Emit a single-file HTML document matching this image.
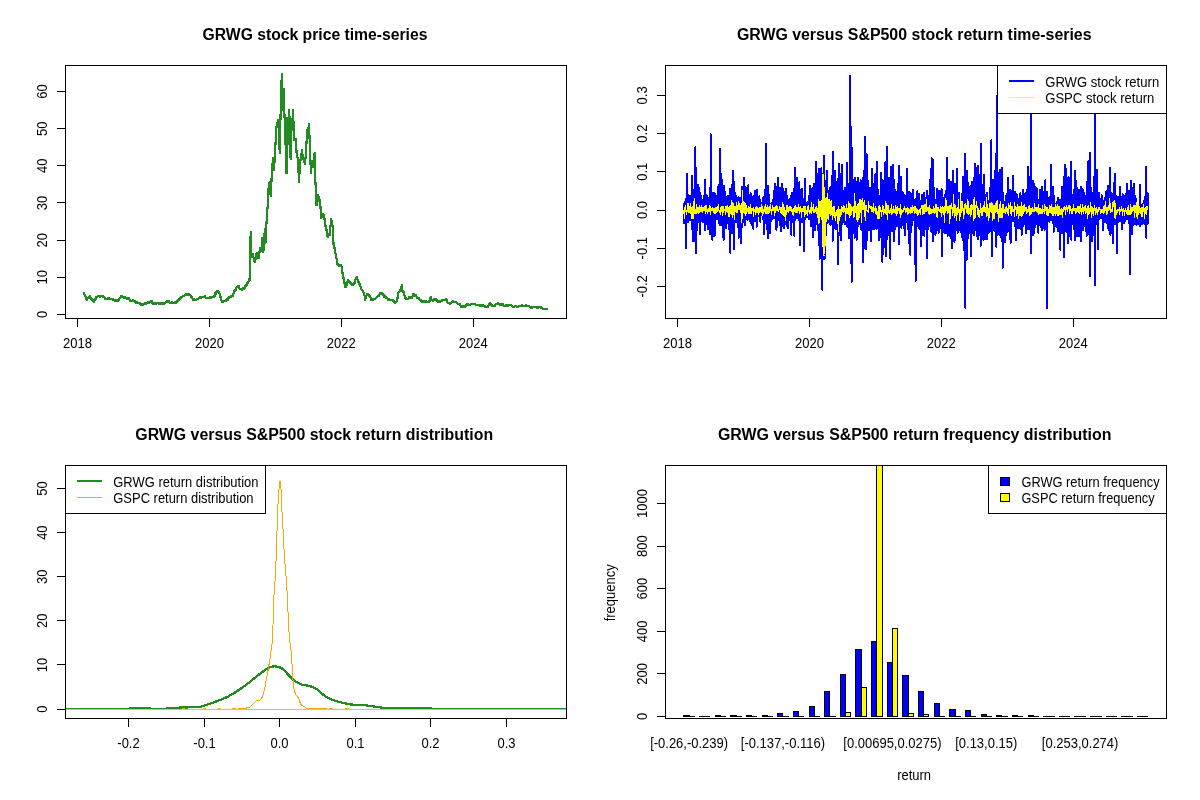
<!DOCTYPE html>
<html><head><meta charset="utf-8"><title>GRWG vs S&amp;P500</title>
<style>html,body{margin:0;padding:0;background:#fff}svg{display:block}</style></head>
<body>
<svg width="1200" height="800" viewBox="0 0 1200 800" font-family="'Liberation Sans', Arial, sans-serif" fill="#000">
<rect width="1200" height="800" fill="#fff"/>
<defs>
<clipPath id="c0"><rect x="65.3" y="65.3" width="501.2" height="253.4"/></clipPath>
<clipPath id="c1"><rect x="665.3" y="65.3" width="501.2" height="253.4"/></clipPath>
<clipPath id="c2"><rect x="65.3" y="465.3" width="501.2" height="253.4"/></clipPath>
<clipPath id="c3"><rect x="665.3" y="465.3" width="501.2" height="253.4"/></clipPath>
</defs>
<g clip-path="url(#c0)" fill="none" stroke="#228B22" stroke-width="1.1" stroke-linejoin="round" shape-rendering="crispEdges">
<polyline id="p1" points="83.75,292.75 84.38,294.03 85.01,295.78 85.64,296.85 86.27,298.22 86.90,299.75 87.61,298.50 88.33,297.91 89.04,297.60 89.75,296.25 90.42,297.37 91.08,298.56 91.75,299.17 92.42,300.17 93.08,301.03 93.75,301.90 94.38,300.12 95.00,299.91 95.62,298.62 96.25,297.25 96.88,297.32 97.51,296.24 98.13,296.08 98.76,296.31 99.39,296.35 100.02,296.55 100.64,296.26 101.27,296.37 101.90,296.00 102.52,296.13 103.13,296.97 103.75,297.42 104.37,297.39 104.98,298.79 105.60,298.50 106.23,298.75 106.86,299.04 107.48,298.33 108.11,298.31 108.74,298.50 109.37,298.62 109.99,298.95 110.62,298.82 111.25,298.75 111.88,298.88 112.50,298.99 113.12,299.47 113.75,300.45 114.38,299.99 115.00,300.60 115.62,300.63 116.25,300.64 116.88,299.87 117.50,300.38 118.12,300.80 118.75,300.25 119.44,298.46 120.12,298.12 120.81,297.20 121.50,296.25 122.22,296.36 122.95,297.39 123.68,297.61 124.40,298.10 125.02,297.50 125.64,298.44 126.26,298.38 126.89,298.49 127.51,298.69 128.13,298.25 128.75,298.10 129.37,299.20 129.98,299.71 130.60,301.25 131.23,301.34 131.86,300.77 132.49,300.69 133.12,300.26 133.75,300.60 134.38,300.79 135.00,301.49 135.62,302.66 136.25,302.75 136.88,302.14 137.51,302.40 138.14,303.04 138.77,303.51 139.40,303.10 140.13,304.12 140.87,304.19 141.60,305.60 142.28,304.43 142.96,304.87 143.64,304.11 144.32,303.56 145.00,303.50 145.62,303.57 146.25,303.37 146.88,302.80 147.50,302.58 148.12,302.40 148.75,302.56 149.38,301.97 150.00,301.69 150.62,301.45 151.25,301.00 151.88,301.19 152.50,302.94 153.12,303.57 153.75,304.00 154.38,303.99 155.01,303.00 155.64,303.25 156.27,303.56 156.90,303.10 157.53,302.53 158.15,303.11 158.78,303.54 159.40,302.80 160.03,303.80 160.65,303.48 161.28,303.28 161.90,303.47 162.53,303.61 163.15,303.47 163.78,303.84 164.40,303.50 165.07,302.78 165.74,302.36 166.41,302.36 167.08,301.51 167.75,301.00 168.46,301.12 169.18,302.21 169.89,302.82 170.60,302.75 171.22,302.60 171.85,302.28 172.47,302.70 173.10,302.70 173.72,302.65 174.35,303.22 174.97,302.40 175.60,302.75 176.23,302.58 176.86,301.07 177.48,300.63 178.11,300.54 178.74,300.13 179.37,299.42 179.99,298.61 180.62,297.92 181.25,297.25 181.88,296.93 182.51,296.72 183.13,296.00 183.76,295.82 184.39,295.57 185.02,294.92 185.64,294.89 186.27,294.41 186.90,293.75 187.52,295.02 188.13,294.52 188.75,294.48 189.37,294.81 189.98,295.29 190.60,295.60 191.23,296.84 191.87,297.12 192.50,298.26 193.13,299.67 193.77,298.78 194.40,300.60 195.02,299.82 195.64,299.98 196.26,299.68 196.89,299.27 197.51,298.64 198.13,298.72 198.75,298.10 199.38,298.02 200.00,297.48 200.62,298.53 201.25,297.45 201.88,296.86 202.50,296.90 203.12,297.06 203.75,297.20 204.38,297.47 205.00,296.56 205.62,297.70 206.25,298.10 206.88,298.42 207.50,297.41 208.12,297.77 208.75,298.10 209.38,297.96 210.00,297.50 210.62,298.03 211.25,296.58 211.88,297.05 212.50,296.95 213.12,297.27 213.75,296.90 214.45,296.15 215.15,293.16 215.85,293.71 216.55,291.20 217.25,290.70 217.86,291.82 218.47,291.47 219.09,293.07 219.70,293.75 220.47,297.09 221.23,299.32 222.00,302.20 222.61,301.98 223.21,301.91 223.82,301.39 224.43,301.02 225.04,301.34 225.64,300.88 226.25,300.20 226.88,299.51 227.50,300.14 228.12,298.01 228.75,298.28 229.38,297.21 230.00,296.75 230.60,296.51 231.20,296.46 231.80,295.95 232.40,295.84 233.00,295.25 233.75,292.76 234.50,290.97 235.25,290.00 235.89,289.41 236.53,287.57 237.16,286.58 237.80,286.25 238.45,286.00 239.10,288.24 239.75,288.55 240.40,289.58 241.05,288.86 241.70,290.00 242.36,289.40 243.02,288.16 243.68,288.64 244.34,288.52 245.00,287.00 245.75,285.21 246.50,285.48 247.25,283.25 247.89,282.97 248.53,281.25 249.16,279.07 249.80,279.50 250.10,249.50 250.70,232.25 251.00,257.00 251.75,257.04 252.50,254.00 253.25,256.65 254.00,258.88 254.75,262.25 255.40,259.66 256.05,256.69 256.70,253.25 257.30,256.65 257.90,255.65 258.50,258.50 259.25,254.53 260.00,248.00 260.75,251.27 261.50,251.00 262.25,237.50 263.30,252.50 264.05,242.44 264.80,228.50 265.40,243.50 266.07,230.48 266.75,218.00 267.80,204.50 268.50,188.75 269.60,182.20 270.75,196.25 271.90,171.90 273.00,157.80 274.10,170.00 274.85,153.95 275.60,141.90 276.75,123.10 277.50,124.99 278.25,120.30 279.00,137.04 279.75,153.10 280.90,98.75 281.80,74.40 282.75,110.00 283.70,89.40 284.60,119.40 285.60,145.60 286.50,173.75 287.25,117.50 288.20,143.75 289.30,110.00 289.95,134.75 290.60,158.75 291.75,121.25 292.43,120.37 293.10,110.00 294.00,140.00 294.65,138.72 295.30,139.00 295.95,139.52 296.60,153.10 297.75,158.75 298.43,169.52 299.10,182.20 299.75,166.88 300.40,160.60 301.15,157.66 301.90,150.30 302.65,155.38 303.40,158.75 304.15,159.99 304.90,164.40 306.00,153.10 307.10,131.60 307.73,129.04 308.37,129.16 309.00,124.00 309.75,143.75 310.90,172.80 311.55,166.90 312.20,160.60 312.85,167.30 313.50,167.20 314.60,153.10 315.40,181.25 316.50,205.60 317.30,200.13 318.10,194.90 318.77,198.64 319.43,201.13 320.10,199.75 320.75,211.64 321.40,217.60 322.03,215.38 322.67,216.99 323.30,214.40 324.00,214.99 324.70,220.17 325.40,225.70 326.25,227.67 327.10,235.50 327.78,236.81 328.45,233.35 329.12,234.88 329.80,234.70 330.45,226.65 331.10,219.20 331.93,223.25 332.75,227.40 333.60,245.20 334.40,247.74 335.20,251.70 336.00,256.05 336.80,259.90 337.50,263.84 338.20,264.28 338.90,266.40 339.67,266.33 340.43,266.20 341.20,264.70 341.85,268.63 342.50,272.90 343.30,276.41 344.10,281.80 344.90,284.30 345.70,287.50 346.32,286.33 346.95,282.80 347.57,281.62 348.20,280.20 348.90,281.69 349.60,282.33 350.30,282.60 351.07,283.40 351.83,284.71 352.60,285.00 353.30,284.31 354.00,282.64 354.70,282.60 355.40,279.62 356.10,278.34 356.80,276.90 357.43,279.47 358.07,280.31 358.70,282.60 359.32,283.65 359.95,285.38 360.57,286.58 361.20,289.10 361.80,289.86 362.40,290.12 363.00,291.76 363.60,292.40 364.40,295.00 365.20,299.70 366.05,296.99 366.90,294.00 367.50,294.10 368.10,293.90 368.70,295.53 369.30,295.60 370.00,297.02 370.70,297.77 371.40,300.20 372.10,299.62 372.80,299.81 373.50,299.27 374.20,299.20 374.84,298.95 375.48,298.39 376.12,297.80 376.76,297.10 377.40,296.40 378.08,296.38 378.77,295.47 379.45,294.76 380.13,292.93 380.82,293.76 381.50,292.70 382.14,294.08 382.78,294.04 383.42,294.70 384.06,296.54 384.70,296.40 385.31,296.05 385.93,297.42 386.54,298.65 387.15,297.67 387.76,298.74 388.38,299.63 388.99,299.24 389.60,299.70 390.28,300.08 390.96,300.36 391.64,299.84 392.32,300.31 393.00,300.50 393.63,301.36 394.27,302.29 394.90,302.75 395.63,302.12 396.37,301.45 397.10,300.90 398.25,293.00 398.87,291.85 399.48,291.55 400.10,291.10 400.73,289.48 401.37,286.93 402.00,284.75 402.40,290.75 403.15,291.44 403.90,293.00 405.00,297.50 405.75,297.52 406.50,299.33 407.25,298.60 407.85,298.84 408.45,298.42 409.05,296.86 409.65,297.98 410.25,297.50 411.00,297.45 411.75,297.72 412.50,296.75 413.40,293.75 414.07,295.07 414.75,296.00 415.90,294.90 417.00,297.50 417.63,297.72 418.27,298.22 418.90,298.25 420.00,300.10 420.75,299.88 421.50,301.48 422.25,301.60 423.00,301.60 423.75,301.11 424.50,301.25 425.10,301.95 425.70,302.35 426.30,301.45 426.90,301.94 427.50,302.40 428.25,302.00 429.00,301.47 429.75,300.90 430.90,296.75 431.25,300.10 431.88,299.89 432.50,299.61 433.12,300.74 433.75,300.27 434.38,299.35 435.00,299.75 435.75,299.05 436.50,299.40 437.15,300.60 437.80,300.87 438.45,301.72 439.10,301.60 439.76,301.72 440.43,300.93 441.09,301.17 441.75,300.90 442.50,299.83 443.25,300.09 444.00,300.10 444.75,299.84 445.50,299.84 446.25,299.40 447.00,300.99 447.75,303.10 448.35,303.14 448.95,303.41 449.55,303.46 450.15,303.63 450.75,303.50 451.50,302.70 452.25,301.65 453.00,300.90 453.75,301.55 454.50,301.65 455.25,302.00 456.00,302.22 456.75,302.79 457.50,303.50 458.25,303.75 459.00,303.97 459.75,304.25 460.90,306.50 461.58,306.54 462.27,306.50 462.95,306.55 463.63,306.46 464.32,306.15 465.00,306.50 465.75,305.76 466.50,305.09 467.25,303.90 468.00,304.40 468.75,304.58 469.50,305.00 470.12,304.95 470.75,304.34 471.38,303.86 472.00,304.29 472.62,303.79 473.25,303.90 473.85,304.35 474.45,304.00 475.05,303.75 475.65,304.46 476.25,305.00 476.92,305.44 477.58,304.82 478.25,304.90 479.00,304.86 479.75,305.41 480.50,306.00 481.13,305.90 481.77,305.65 482.40,305.25 483.02,305.55 483.63,306.18 484.25,306.20 484.87,306.24 485.48,306.67 486.10,306.75 486.73,307.09 487.37,306.79 488.00,306.40 488.63,305.57 489.27,303.79 489.90,303.00 490.55,303.70 491.20,304.73 491.85,305.16 492.50,306.00 493.13,306.27 493.77,306.10 494.40,305.90 495.15,305.10 495.90,303.75 496.57,303.43 497.23,304.09 497.90,303.00 498.60,303.90 499.30,303.93 500.00,304.50 500.75,304.39 501.50,305.05 502.25,304.10 503.00,304.63 503.75,305.63 504.50,306.00 505.10,306.20 505.70,305.84 506.30,305.42 506.90,305.73 507.50,305.60 508.25,305.36 509.00,304.90 509.75,305.31 510.50,305.27 511.25,305.10 512.00,305.77 512.75,306.67 513.50,307.10 514.13,306.85 514.77,306.36 515.40,305.90 516.02,306.25 516.63,306.50 517.25,306.90 517.88,306.95 518.50,306.34 519.12,306.33 519.75,306.37 520.38,305.82 521.00,306.10 521.62,305.96 522.25,305.49 522.88,305.86 523.50,306.20 524.12,306.18 524.75,305.98 525.38,305.92 526.00,305.56 526.62,306.47 527.25,306.08 527.88,306.23 528.50,305.90 529.10,306.05 529.70,306.65 530.30,306.61 530.90,307.70 531.50,307.90 532.25,307.81 533.00,306.73 533.75,306.90 534.50,306.95 535.25,307.20 536.00,307.10 536.75,307.04 537.50,307.90 538.10,307.27 538.70,307.30 539.30,307.25 539.90,306.89 540.50,307.10 541.15,307.56 541.80,308.06 542.45,308.61 543.10,308.90 543.74,309.07 544.39,309.26 545.03,309.18 545.67,308.59 546.31,308.78 546.96,308.65 547.60,308.90" transform="translate(-0.5 -0.5)"/>
<polyline points="83.75,292.75 84.38,294.03 85.01,295.78 85.64,296.85 86.27,298.22 86.90,299.75 87.61,298.50 88.33,297.91 89.04,297.60 89.75,296.25 90.42,297.37 91.08,298.56 91.75,299.17 92.42,300.17 93.08,301.03 93.75,301.90 94.38,300.12 95.00,299.91 95.62,298.62 96.25,297.25 96.88,297.32 97.51,296.24 98.13,296.08 98.76,296.31 99.39,296.35 100.02,296.55 100.64,296.26 101.27,296.37 101.90,296.00 102.52,296.13 103.13,296.97 103.75,297.42 104.37,297.39 104.98,298.79 105.60,298.50 106.23,298.75 106.86,299.04 107.48,298.33 108.11,298.31 108.74,298.50 109.37,298.62 109.99,298.95 110.62,298.82 111.25,298.75 111.88,298.88 112.50,298.99 113.12,299.47 113.75,300.45 114.38,299.99 115.00,300.60 115.62,300.63 116.25,300.64 116.88,299.87 117.50,300.38 118.12,300.80 118.75,300.25 119.44,298.46 120.12,298.12 120.81,297.20 121.50,296.25 122.22,296.36 122.95,297.39 123.68,297.61 124.40,298.10 125.02,297.50 125.64,298.44 126.26,298.38 126.89,298.49 127.51,298.69 128.13,298.25 128.75,298.10 129.37,299.20 129.98,299.71 130.60,301.25 131.23,301.34 131.86,300.77 132.49,300.69 133.12,300.26 133.75,300.60 134.38,300.79 135.00,301.49 135.62,302.66 136.25,302.75 136.88,302.14 137.51,302.40 138.14,303.04 138.77,303.51 139.40,303.10 140.13,304.12 140.87,304.19 141.60,305.60 142.28,304.43 142.96,304.87 143.64,304.11 144.32,303.56 145.00,303.50 145.62,303.57 146.25,303.37 146.88,302.80 147.50,302.58 148.12,302.40 148.75,302.56 149.38,301.97 150.00,301.69 150.62,301.45 151.25,301.00 151.88,301.19 152.50,302.94 153.12,303.57 153.75,304.00 154.38,303.99 155.01,303.00 155.64,303.25 156.27,303.56 156.90,303.10 157.53,302.53 158.15,303.11 158.78,303.54 159.40,302.80 160.03,303.80 160.65,303.48 161.28,303.28 161.90,303.47 162.53,303.61 163.15,303.47 163.78,303.84 164.40,303.50 165.07,302.78 165.74,302.36 166.41,302.36 167.08,301.51 167.75,301.00 168.46,301.12 169.18,302.21 169.89,302.82 170.60,302.75 171.22,302.60 171.85,302.28 172.47,302.70 173.10,302.70 173.72,302.65 174.35,303.22 174.97,302.40 175.60,302.75 176.23,302.58 176.86,301.07 177.48,300.63 178.11,300.54 178.74,300.13 179.37,299.42 179.99,298.61 180.62,297.92 181.25,297.25 181.88,296.93 182.51,296.72 183.13,296.00 183.76,295.82 184.39,295.57 185.02,294.92 185.64,294.89 186.27,294.41 186.90,293.75 187.52,295.02 188.13,294.52 188.75,294.48 189.37,294.81 189.98,295.29 190.60,295.60 191.23,296.84 191.87,297.12 192.50,298.26 193.13,299.67 193.77,298.78 194.40,300.60 195.02,299.82 195.64,299.98 196.26,299.68 196.89,299.27 197.51,298.64 198.13,298.72 198.75,298.10 199.38,298.02 200.00,297.48 200.62,298.53 201.25,297.45 201.88,296.86 202.50,296.90 203.12,297.06 203.75,297.20 204.38,297.47 205.00,296.56 205.62,297.70 206.25,298.10 206.88,298.42 207.50,297.41 208.12,297.77 208.75,298.10 209.38,297.96 210.00,297.50 210.62,298.03 211.25,296.58 211.88,297.05 212.50,296.95 213.12,297.27 213.75,296.90 214.45,296.15 215.15,293.16 215.85,293.71 216.55,291.20 217.25,290.70 217.86,291.82 218.47,291.47 219.09,293.07 219.70,293.75 220.47,297.09 221.23,299.32 222.00,302.20 222.61,301.98 223.21,301.91 223.82,301.39 224.43,301.02 225.04,301.34 225.64,300.88 226.25,300.20 226.88,299.51 227.50,300.14 228.12,298.01 228.75,298.28 229.38,297.21 230.00,296.75 230.60,296.51 231.20,296.46 231.80,295.95 232.40,295.84 233.00,295.25 233.75,292.76 234.50,290.97 235.25,290.00 235.89,289.41 236.53,287.57 237.16,286.58 237.80,286.25 238.45,286.00 239.10,288.24 239.75,288.55 240.40,289.58 241.05,288.86 241.70,290.00 242.36,289.40 243.02,288.16 243.68,288.64 244.34,288.52 245.00,287.00 245.75,285.21 246.50,285.48 247.25,283.25 247.89,282.97 248.53,281.25 249.16,279.07 249.80,279.50 250.10,249.50 250.70,232.25 251.00,257.00 251.75,257.04 252.50,254.00 253.25,256.65 254.00,258.88 254.75,262.25 255.40,259.66 256.05,256.69 256.70,253.25 257.30,256.65 257.90,255.65 258.50,258.50 259.25,254.53 260.00,248.00 260.75,251.27 261.50,251.00 262.25,237.50 263.30,252.50 264.05,242.44 264.80,228.50 265.40,243.50 266.07,230.48 266.75,218.00 267.80,204.50 268.50,188.75 269.60,182.20 270.75,196.25 271.90,171.90 273.00,157.80 274.10,170.00 274.85,153.95 275.60,141.90 276.75,123.10 277.50,124.99 278.25,120.30 279.00,137.04 279.75,153.10 280.90,98.75 281.80,74.40 282.75,110.00 283.70,89.40 284.60,119.40 285.60,145.60 286.50,173.75 287.25,117.50 288.20,143.75 289.30,110.00 289.95,134.75 290.60,158.75 291.75,121.25 292.43,120.37 293.10,110.00 294.00,140.00 294.65,138.72 295.30,139.00 295.95,139.52 296.60,153.10 297.75,158.75 298.43,169.52 299.10,182.20 299.75,166.88 300.40,160.60 301.15,157.66 301.90,150.30 302.65,155.38 303.40,158.75 304.15,159.99 304.90,164.40 306.00,153.10 307.10,131.60 307.73,129.04 308.37,129.16 309.00,124.00 309.75,143.75 310.90,172.80 311.55,166.90 312.20,160.60 312.85,167.30 313.50,167.20 314.60,153.10 315.40,181.25 316.50,205.60 317.30,200.13 318.10,194.90 318.77,198.64 319.43,201.13 320.10,199.75 320.75,211.64 321.40,217.60 322.03,215.38 322.67,216.99 323.30,214.40 324.00,214.99 324.70,220.17 325.40,225.70 326.25,227.67 327.10,235.50 327.78,236.81 328.45,233.35 329.12,234.88 329.80,234.70 330.45,226.65 331.10,219.20 331.93,223.25 332.75,227.40 333.60,245.20 334.40,247.74 335.20,251.70 336.00,256.05 336.80,259.90 337.50,263.84 338.20,264.28 338.90,266.40 339.67,266.33 340.43,266.20 341.20,264.70 341.85,268.63 342.50,272.90 343.30,276.41 344.10,281.80 344.90,284.30 345.70,287.50 346.32,286.33 346.95,282.80 347.57,281.62 348.20,280.20 348.90,281.69 349.60,282.33 350.30,282.60 351.07,283.40 351.83,284.71 352.60,285.00 353.30,284.31 354.00,282.64 354.70,282.60 355.40,279.62 356.10,278.34 356.80,276.90 357.43,279.47 358.07,280.31 358.70,282.60 359.32,283.65 359.95,285.38 360.57,286.58 361.20,289.10 361.80,289.86 362.40,290.12 363.00,291.76 363.60,292.40 364.40,295.00 365.20,299.70 366.05,296.99 366.90,294.00 367.50,294.10 368.10,293.90 368.70,295.53 369.30,295.60 370.00,297.02 370.70,297.77 371.40,300.20 372.10,299.62 372.80,299.81 373.50,299.27 374.20,299.20 374.84,298.95 375.48,298.39 376.12,297.80 376.76,297.10 377.40,296.40 378.08,296.38 378.77,295.47 379.45,294.76 380.13,292.93 380.82,293.76 381.50,292.70 382.14,294.08 382.78,294.04 383.42,294.70 384.06,296.54 384.70,296.40 385.31,296.05 385.93,297.42 386.54,298.65 387.15,297.67 387.76,298.74 388.38,299.63 388.99,299.24 389.60,299.70 390.28,300.08 390.96,300.36 391.64,299.84 392.32,300.31 393.00,300.50 393.63,301.36 394.27,302.29 394.90,302.75 395.63,302.12 396.37,301.45 397.10,300.90 398.25,293.00 398.87,291.85 399.48,291.55 400.10,291.10 400.73,289.48 401.37,286.93 402.00,284.75 402.40,290.75 403.15,291.44 403.90,293.00 405.00,297.50 405.75,297.52 406.50,299.33 407.25,298.60 407.85,298.84 408.45,298.42 409.05,296.86 409.65,297.98 410.25,297.50 411.00,297.45 411.75,297.72 412.50,296.75 413.40,293.75 414.07,295.07 414.75,296.00 415.90,294.90 417.00,297.50 417.63,297.72 418.27,298.22 418.90,298.25 420.00,300.10 420.75,299.88 421.50,301.48 422.25,301.60 423.00,301.60 423.75,301.11 424.50,301.25 425.10,301.95 425.70,302.35 426.30,301.45 426.90,301.94 427.50,302.40 428.25,302.00 429.00,301.47 429.75,300.90 430.90,296.75 431.25,300.10 431.88,299.89 432.50,299.61 433.12,300.74 433.75,300.27 434.38,299.35 435.00,299.75 435.75,299.05 436.50,299.40 437.15,300.60 437.80,300.87 438.45,301.72 439.10,301.60 439.76,301.72 440.43,300.93 441.09,301.17 441.75,300.90 442.50,299.83 443.25,300.09 444.00,300.10 444.75,299.84 445.50,299.84 446.25,299.40 447.00,300.99 447.75,303.10 448.35,303.14 448.95,303.41 449.55,303.46 450.15,303.63 450.75,303.50 451.50,302.70 452.25,301.65 453.00,300.90 453.75,301.55 454.50,301.65 455.25,302.00 456.00,302.22 456.75,302.79 457.50,303.50 458.25,303.75 459.00,303.97 459.75,304.25 460.90,306.50 461.58,306.54 462.27,306.50 462.95,306.55 463.63,306.46 464.32,306.15 465.00,306.50 465.75,305.76 466.50,305.09 467.25,303.90 468.00,304.40 468.75,304.58 469.50,305.00 470.12,304.95 470.75,304.34 471.38,303.86 472.00,304.29 472.62,303.79 473.25,303.90 473.85,304.35 474.45,304.00 475.05,303.75 475.65,304.46 476.25,305.00 476.92,305.44 477.58,304.82 478.25,304.90 479.00,304.86 479.75,305.41 480.50,306.00 481.13,305.90 481.77,305.65 482.40,305.25 483.02,305.55 483.63,306.18 484.25,306.20 484.87,306.24 485.48,306.67 486.10,306.75 486.73,307.09 487.37,306.79 488.00,306.40 488.63,305.57 489.27,303.79 489.90,303.00 490.55,303.70 491.20,304.73 491.85,305.16 492.50,306.00 493.13,306.27 493.77,306.10 494.40,305.90 495.15,305.10 495.90,303.75 496.57,303.43 497.23,304.09 497.90,303.00 498.60,303.90 499.30,303.93 500.00,304.50 500.75,304.39 501.50,305.05 502.25,304.10 503.00,304.63 503.75,305.63 504.50,306.00 505.10,306.20 505.70,305.84 506.30,305.42 506.90,305.73 507.50,305.60 508.25,305.36 509.00,304.90 509.75,305.31 510.50,305.27 511.25,305.10 512.00,305.77 512.75,306.67 513.50,307.10 514.13,306.85 514.77,306.36 515.40,305.90 516.02,306.25 516.63,306.50 517.25,306.90 517.88,306.95 518.50,306.34 519.12,306.33 519.75,306.37 520.38,305.82 521.00,306.10 521.62,305.96 522.25,305.49 522.88,305.86 523.50,306.20 524.12,306.18 524.75,305.98 525.38,305.92 526.00,305.56 526.62,306.47 527.25,306.08 527.88,306.23 528.50,305.90 529.10,306.05 529.70,306.65 530.30,306.61 530.90,307.70 531.50,307.90 532.25,307.81 533.00,306.73 533.75,306.90 534.50,306.95 535.25,307.20 536.00,307.10 536.75,307.04 537.50,307.90 538.10,307.27 538.70,307.30 539.30,307.25 539.90,306.89 540.50,307.10 541.15,307.56 541.80,308.06 542.45,308.61 543.10,308.90 543.74,309.07 544.39,309.26 545.03,309.18 545.67,308.59 546.31,308.78 546.96,308.65 547.60,308.90" transform="translate(0.5 -0.5)"/>
<polyline points="83.75,292.75 84.38,294.03 85.01,295.78 85.64,296.85 86.27,298.22 86.90,299.75 87.61,298.50 88.33,297.91 89.04,297.60 89.75,296.25 90.42,297.37 91.08,298.56 91.75,299.17 92.42,300.17 93.08,301.03 93.75,301.90 94.38,300.12 95.00,299.91 95.62,298.62 96.25,297.25 96.88,297.32 97.51,296.24 98.13,296.08 98.76,296.31 99.39,296.35 100.02,296.55 100.64,296.26 101.27,296.37 101.90,296.00 102.52,296.13 103.13,296.97 103.75,297.42 104.37,297.39 104.98,298.79 105.60,298.50 106.23,298.75 106.86,299.04 107.48,298.33 108.11,298.31 108.74,298.50 109.37,298.62 109.99,298.95 110.62,298.82 111.25,298.75 111.88,298.88 112.50,298.99 113.12,299.47 113.75,300.45 114.38,299.99 115.00,300.60 115.62,300.63 116.25,300.64 116.88,299.87 117.50,300.38 118.12,300.80 118.75,300.25 119.44,298.46 120.12,298.12 120.81,297.20 121.50,296.25 122.22,296.36 122.95,297.39 123.68,297.61 124.40,298.10 125.02,297.50 125.64,298.44 126.26,298.38 126.89,298.49 127.51,298.69 128.13,298.25 128.75,298.10 129.37,299.20 129.98,299.71 130.60,301.25 131.23,301.34 131.86,300.77 132.49,300.69 133.12,300.26 133.75,300.60 134.38,300.79 135.00,301.49 135.62,302.66 136.25,302.75 136.88,302.14 137.51,302.40 138.14,303.04 138.77,303.51 139.40,303.10 140.13,304.12 140.87,304.19 141.60,305.60 142.28,304.43 142.96,304.87 143.64,304.11 144.32,303.56 145.00,303.50 145.62,303.57 146.25,303.37 146.88,302.80 147.50,302.58 148.12,302.40 148.75,302.56 149.38,301.97 150.00,301.69 150.62,301.45 151.25,301.00 151.88,301.19 152.50,302.94 153.12,303.57 153.75,304.00 154.38,303.99 155.01,303.00 155.64,303.25 156.27,303.56 156.90,303.10 157.53,302.53 158.15,303.11 158.78,303.54 159.40,302.80 160.03,303.80 160.65,303.48 161.28,303.28 161.90,303.47 162.53,303.61 163.15,303.47 163.78,303.84 164.40,303.50 165.07,302.78 165.74,302.36 166.41,302.36 167.08,301.51 167.75,301.00 168.46,301.12 169.18,302.21 169.89,302.82 170.60,302.75 171.22,302.60 171.85,302.28 172.47,302.70 173.10,302.70 173.72,302.65 174.35,303.22 174.97,302.40 175.60,302.75 176.23,302.58 176.86,301.07 177.48,300.63 178.11,300.54 178.74,300.13 179.37,299.42 179.99,298.61 180.62,297.92 181.25,297.25 181.88,296.93 182.51,296.72 183.13,296.00 183.76,295.82 184.39,295.57 185.02,294.92 185.64,294.89 186.27,294.41 186.90,293.75 187.52,295.02 188.13,294.52 188.75,294.48 189.37,294.81 189.98,295.29 190.60,295.60 191.23,296.84 191.87,297.12 192.50,298.26 193.13,299.67 193.77,298.78 194.40,300.60 195.02,299.82 195.64,299.98 196.26,299.68 196.89,299.27 197.51,298.64 198.13,298.72 198.75,298.10 199.38,298.02 200.00,297.48 200.62,298.53 201.25,297.45 201.88,296.86 202.50,296.90 203.12,297.06 203.75,297.20 204.38,297.47 205.00,296.56 205.62,297.70 206.25,298.10 206.88,298.42 207.50,297.41 208.12,297.77 208.75,298.10 209.38,297.96 210.00,297.50 210.62,298.03 211.25,296.58 211.88,297.05 212.50,296.95 213.12,297.27 213.75,296.90 214.45,296.15 215.15,293.16 215.85,293.71 216.55,291.20 217.25,290.70 217.86,291.82 218.47,291.47 219.09,293.07 219.70,293.75 220.47,297.09 221.23,299.32 222.00,302.20 222.61,301.98 223.21,301.91 223.82,301.39 224.43,301.02 225.04,301.34 225.64,300.88 226.25,300.20 226.88,299.51 227.50,300.14 228.12,298.01 228.75,298.28 229.38,297.21 230.00,296.75 230.60,296.51 231.20,296.46 231.80,295.95 232.40,295.84 233.00,295.25 233.75,292.76 234.50,290.97 235.25,290.00 235.89,289.41 236.53,287.57 237.16,286.58 237.80,286.25 238.45,286.00 239.10,288.24 239.75,288.55 240.40,289.58 241.05,288.86 241.70,290.00 242.36,289.40 243.02,288.16 243.68,288.64 244.34,288.52 245.00,287.00 245.75,285.21 246.50,285.48 247.25,283.25 247.89,282.97 248.53,281.25 249.16,279.07 249.80,279.50 250.10,249.50 250.70,232.25 251.00,257.00 251.75,257.04 252.50,254.00 253.25,256.65 254.00,258.88 254.75,262.25 255.40,259.66 256.05,256.69 256.70,253.25 257.30,256.65 257.90,255.65 258.50,258.50 259.25,254.53 260.00,248.00 260.75,251.27 261.50,251.00 262.25,237.50 263.30,252.50 264.05,242.44 264.80,228.50 265.40,243.50 266.07,230.48 266.75,218.00 267.80,204.50 268.50,188.75 269.60,182.20 270.75,196.25 271.90,171.90 273.00,157.80 274.10,170.00 274.85,153.95 275.60,141.90 276.75,123.10 277.50,124.99 278.25,120.30 279.00,137.04 279.75,153.10 280.90,98.75 281.80,74.40 282.75,110.00 283.70,89.40 284.60,119.40 285.60,145.60 286.50,173.75 287.25,117.50 288.20,143.75 289.30,110.00 289.95,134.75 290.60,158.75 291.75,121.25 292.43,120.37 293.10,110.00 294.00,140.00 294.65,138.72 295.30,139.00 295.95,139.52 296.60,153.10 297.75,158.75 298.43,169.52 299.10,182.20 299.75,166.88 300.40,160.60 301.15,157.66 301.90,150.30 302.65,155.38 303.40,158.75 304.15,159.99 304.90,164.40 306.00,153.10 307.10,131.60 307.73,129.04 308.37,129.16 309.00,124.00 309.75,143.75 310.90,172.80 311.55,166.90 312.20,160.60 312.85,167.30 313.50,167.20 314.60,153.10 315.40,181.25 316.50,205.60 317.30,200.13 318.10,194.90 318.77,198.64 319.43,201.13 320.10,199.75 320.75,211.64 321.40,217.60 322.03,215.38 322.67,216.99 323.30,214.40 324.00,214.99 324.70,220.17 325.40,225.70 326.25,227.67 327.10,235.50 327.78,236.81 328.45,233.35 329.12,234.88 329.80,234.70 330.45,226.65 331.10,219.20 331.93,223.25 332.75,227.40 333.60,245.20 334.40,247.74 335.20,251.70 336.00,256.05 336.80,259.90 337.50,263.84 338.20,264.28 338.90,266.40 339.67,266.33 340.43,266.20 341.20,264.70 341.85,268.63 342.50,272.90 343.30,276.41 344.10,281.80 344.90,284.30 345.70,287.50 346.32,286.33 346.95,282.80 347.57,281.62 348.20,280.20 348.90,281.69 349.60,282.33 350.30,282.60 351.07,283.40 351.83,284.71 352.60,285.00 353.30,284.31 354.00,282.64 354.70,282.60 355.40,279.62 356.10,278.34 356.80,276.90 357.43,279.47 358.07,280.31 358.70,282.60 359.32,283.65 359.95,285.38 360.57,286.58 361.20,289.10 361.80,289.86 362.40,290.12 363.00,291.76 363.60,292.40 364.40,295.00 365.20,299.70 366.05,296.99 366.90,294.00 367.50,294.10 368.10,293.90 368.70,295.53 369.30,295.60 370.00,297.02 370.70,297.77 371.40,300.20 372.10,299.62 372.80,299.81 373.50,299.27 374.20,299.20 374.84,298.95 375.48,298.39 376.12,297.80 376.76,297.10 377.40,296.40 378.08,296.38 378.77,295.47 379.45,294.76 380.13,292.93 380.82,293.76 381.50,292.70 382.14,294.08 382.78,294.04 383.42,294.70 384.06,296.54 384.70,296.40 385.31,296.05 385.93,297.42 386.54,298.65 387.15,297.67 387.76,298.74 388.38,299.63 388.99,299.24 389.60,299.70 390.28,300.08 390.96,300.36 391.64,299.84 392.32,300.31 393.00,300.50 393.63,301.36 394.27,302.29 394.90,302.75 395.63,302.12 396.37,301.45 397.10,300.90 398.25,293.00 398.87,291.85 399.48,291.55 400.10,291.10 400.73,289.48 401.37,286.93 402.00,284.75 402.40,290.75 403.15,291.44 403.90,293.00 405.00,297.50 405.75,297.52 406.50,299.33 407.25,298.60 407.85,298.84 408.45,298.42 409.05,296.86 409.65,297.98 410.25,297.50 411.00,297.45 411.75,297.72 412.50,296.75 413.40,293.75 414.07,295.07 414.75,296.00 415.90,294.90 417.00,297.50 417.63,297.72 418.27,298.22 418.90,298.25 420.00,300.10 420.75,299.88 421.50,301.48 422.25,301.60 423.00,301.60 423.75,301.11 424.50,301.25 425.10,301.95 425.70,302.35 426.30,301.45 426.90,301.94 427.50,302.40 428.25,302.00 429.00,301.47 429.75,300.90 430.90,296.75 431.25,300.10 431.88,299.89 432.50,299.61 433.12,300.74 433.75,300.27 434.38,299.35 435.00,299.75 435.75,299.05 436.50,299.40 437.15,300.60 437.80,300.87 438.45,301.72 439.10,301.60 439.76,301.72 440.43,300.93 441.09,301.17 441.75,300.90 442.50,299.83 443.25,300.09 444.00,300.10 444.75,299.84 445.50,299.84 446.25,299.40 447.00,300.99 447.75,303.10 448.35,303.14 448.95,303.41 449.55,303.46 450.15,303.63 450.75,303.50 451.50,302.70 452.25,301.65 453.00,300.90 453.75,301.55 454.50,301.65 455.25,302.00 456.00,302.22 456.75,302.79 457.50,303.50 458.25,303.75 459.00,303.97 459.75,304.25 460.90,306.50 461.58,306.54 462.27,306.50 462.95,306.55 463.63,306.46 464.32,306.15 465.00,306.50 465.75,305.76 466.50,305.09 467.25,303.90 468.00,304.40 468.75,304.58 469.50,305.00 470.12,304.95 470.75,304.34 471.38,303.86 472.00,304.29 472.62,303.79 473.25,303.90 473.85,304.35 474.45,304.00 475.05,303.75 475.65,304.46 476.25,305.00 476.92,305.44 477.58,304.82 478.25,304.90 479.00,304.86 479.75,305.41 480.50,306.00 481.13,305.90 481.77,305.65 482.40,305.25 483.02,305.55 483.63,306.18 484.25,306.20 484.87,306.24 485.48,306.67 486.10,306.75 486.73,307.09 487.37,306.79 488.00,306.40 488.63,305.57 489.27,303.79 489.90,303.00 490.55,303.70 491.20,304.73 491.85,305.16 492.50,306.00 493.13,306.27 493.77,306.10 494.40,305.90 495.15,305.10 495.90,303.75 496.57,303.43 497.23,304.09 497.90,303.00 498.60,303.90 499.30,303.93 500.00,304.50 500.75,304.39 501.50,305.05 502.25,304.10 503.00,304.63 503.75,305.63 504.50,306.00 505.10,306.20 505.70,305.84 506.30,305.42 506.90,305.73 507.50,305.60 508.25,305.36 509.00,304.90 509.75,305.31 510.50,305.27 511.25,305.10 512.00,305.77 512.75,306.67 513.50,307.10 514.13,306.85 514.77,306.36 515.40,305.90 516.02,306.25 516.63,306.50 517.25,306.90 517.88,306.95 518.50,306.34 519.12,306.33 519.75,306.37 520.38,305.82 521.00,306.10 521.62,305.96 522.25,305.49 522.88,305.86 523.50,306.20 524.12,306.18 524.75,305.98 525.38,305.92 526.00,305.56 526.62,306.47 527.25,306.08 527.88,306.23 528.50,305.90 529.10,306.05 529.70,306.65 530.30,306.61 530.90,307.70 531.50,307.90 532.25,307.81 533.00,306.73 533.75,306.90 534.50,306.95 535.25,307.20 536.00,307.10 536.75,307.04 537.50,307.90 538.10,307.27 538.70,307.30 539.30,307.25 539.90,306.89 540.50,307.10 541.15,307.56 541.80,308.06 542.45,308.61 543.10,308.90 543.74,309.07 544.39,309.26 545.03,309.18 545.67,308.59 546.31,308.78 546.96,308.65 547.60,308.90" transform="translate(-0.5 0.5)"/>
<polyline points="83.75,292.75 84.38,294.03 85.01,295.78 85.64,296.85 86.27,298.22 86.90,299.75 87.61,298.50 88.33,297.91 89.04,297.60 89.75,296.25 90.42,297.37 91.08,298.56 91.75,299.17 92.42,300.17 93.08,301.03 93.75,301.90 94.38,300.12 95.00,299.91 95.62,298.62 96.25,297.25 96.88,297.32 97.51,296.24 98.13,296.08 98.76,296.31 99.39,296.35 100.02,296.55 100.64,296.26 101.27,296.37 101.90,296.00 102.52,296.13 103.13,296.97 103.75,297.42 104.37,297.39 104.98,298.79 105.60,298.50 106.23,298.75 106.86,299.04 107.48,298.33 108.11,298.31 108.74,298.50 109.37,298.62 109.99,298.95 110.62,298.82 111.25,298.75 111.88,298.88 112.50,298.99 113.12,299.47 113.75,300.45 114.38,299.99 115.00,300.60 115.62,300.63 116.25,300.64 116.88,299.87 117.50,300.38 118.12,300.80 118.75,300.25 119.44,298.46 120.12,298.12 120.81,297.20 121.50,296.25 122.22,296.36 122.95,297.39 123.68,297.61 124.40,298.10 125.02,297.50 125.64,298.44 126.26,298.38 126.89,298.49 127.51,298.69 128.13,298.25 128.75,298.10 129.37,299.20 129.98,299.71 130.60,301.25 131.23,301.34 131.86,300.77 132.49,300.69 133.12,300.26 133.75,300.60 134.38,300.79 135.00,301.49 135.62,302.66 136.25,302.75 136.88,302.14 137.51,302.40 138.14,303.04 138.77,303.51 139.40,303.10 140.13,304.12 140.87,304.19 141.60,305.60 142.28,304.43 142.96,304.87 143.64,304.11 144.32,303.56 145.00,303.50 145.62,303.57 146.25,303.37 146.88,302.80 147.50,302.58 148.12,302.40 148.75,302.56 149.38,301.97 150.00,301.69 150.62,301.45 151.25,301.00 151.88,301.19 152.50,302.94 153.12,303.57 153.75,304.00 154.38,303.99 155.01,303.00 155.64,303.25 156.27,303.56 156.90,303.10 157.53,302.53 158.15,303.11 158.78,303.54 159.40,302.80 160.03,303.80 160.65,303.48 161.28,303.28 161.90,303.47 162.53,303.61 163.15,303.47 163.78,303.84 164.40,303.50 165.07,302.78 165.74,302.36 166.41,302.36 167.08,301.51 167.75,301.00 168.46,301.12 169.18,302.21 169.89,302.82 170.60,302.75 171.22,302.60 171.85,302.28 172.47,302.70 173.10,302.70 173.72,302.65 174.35,303.22 174.97,302.40 175.60,302.75 176.23,302.58 176.86,301.07 177.48,300.63 178.11,300.54 178.74,300.13 179.37,299.42 179.99,298.61 180.62,297.92 181.25,297.25 181.88,296.93 182.51,296.72 183.13,296.00 183.76,295.82 184.39,295.57 185.02,294.92 185.64,294.89 186.27,294.41 186.90,293.75 187.52,295.02 188.13,294.52 188.75,294.48 189.37,294.81 189.98,295.29 190.60,295.60 191.23,296.84 191.87,297.12 192.50,298.26 193.13,299.67 193.77,298.78 194.40,300.60 195.02,299.82 195.64,299.98 196.26,299.68 196.89,299.27 197.51,298.64 198.13,298.72 198.75,298.10 199.38,298.02 200.00,297.48 200.62,298.53 201.25,297.45 201.88,296.86 202.50,296.90 203.12,297.06 203.75,297.20 204.38,297.47 205.00,296.56 205.62,297.70 206.25,298.10 206.88,298.42 207.50,297.41 208.12,297.77 208.75,298.10 209.38,297.96 210.00,297.50 210.62,298.03 211.25,296.58 211.88,297.05 212.50,296.95 213.12,297.27 213.75,296.90 214.45,296.15 215.15,293.16 215.85,293.71 216.55,291.20 217.25,290.70 217.86,291.82 218.47,291.47 219.09,293.07 219.70,293.75 220.47,297.09 221.23,299.32 222.00,302.20 222.61,301.98 223.21,301.91 223.82,301.39 224.43,301.02 225.04,301.34 225.64,300.88 226.25,300.20 226.88,299.51 227.50,300.14 228.12,298.01 228.75,298.28 229.38,297.21 230.00,296.75 230.60,296.51 231.20,296.46 231.80,295.95 232.40,295.84 233.00,295.25 233.75,292.76 234.50,290.97 235.25,290.00 235.89,289.41 236.53,287.57 237.16,286.58 237.80,286.25 238.45,286.00 239.10,288.24 239.75,288.55 240.40,289.58 241.05,288.86 241.70,290.00 242.36,289.40 243.02,288.16 243.68,288.64 244.34,288.52 245.00,287.00 245.75,285.21 246.50,285.48 247.25,283.25 247.89,282.97 248.53,281.25 249.16,279.07 249.80,279.50 250.10,249.50 250.70,232.25 251.00,257.00 251.75,257.04 252.50,254.00 253.25,256.65 254.00,258.88 254.75,262.25 255.40,259.66 256.05,256.69 256.70,253.25 257.30,256.65 257.90,255.65 258.50,258.50 259.25,254.53 260.00,248.00 260.75,251.27 261.50,251.00 262.25,237.50 263.30,252.50 264.05,242.44 264.80,228.50 265.40,243.50 266.07,230.48 266.75,218.00 267.80,204.50 268.50,188.75 269.60,182.20 270.75,196.25 271.90,171.90 273.00,157.80 274.10,170.00 274.85,153.95 275.60,141.90 276.75,123.10 277.50,124.99 278.25,120.30 279.00,137.04 279.75,153.10 280.90,98.75 281.80,74.40 282.75,110.00 283.70,89.40 284.60,119.40 285.60,145.60 286.50,173.75 287.25,117.50 288.20,143.75 289.30,110.00 289.95,134.75 290.60,158.75 291.75,121.25 292.43,120.37 293.10,110.00 294.00,140.00 294.65,138.72 295.30,139.00 295.95,139.52 296.60,153.10 297.75,158.75 298.43,169.52 299.10,182.20 299.75,166.88 300.40,160.60 301.15,157.66 301.90,150.30 302.65,155.38 303.40,158.75 304.15,159.99 304.90,164.40 306.00,153.10 307.10,131.60 307.73,129.04 308.37,129.16 309.00,124.00 309.75,143.75 310.90,172.80 311.55,166.90 312.20,160.60 312.85,167.30 313.50,167.20 314.60,153.10 315.40,181.25 316.50,205.60 317.30,200.13 318.10,194.90 318.77,198.64 319.43,201.13 320.10,199.75 320.75,211.64 321.40,217.60 322.03,215.38 322.67,216.99 323.30,214.40 324.00,214.99 324.70,220.17 325.40,225.70 326.25,227.67 327.10,235.50 327.78,236.81 328.45,233.35 329.12,234.88 329.80,234.70 330.45,226.65 331.10,219.20 331.93,223.25 332.75,227.40 333.60,245.20 334.40,247.74 335.20,251.70 336.00,256.05 336.80,259.90 337.50,263.84 338.20,264.28 338.90,266.40 339.67,266.33 340.43,266.20 341.20,264.70 341.85,268.63 342.50,272.90 343.30,276.41 344.10,281.80 344.90,284.30 345.70,287.50 346.32,286.33 346.95,282.80 347.57,281.62 348.20,280.20 348.90,281.69 349.60,282.33 350.30,282.60 351.07,283.40 351.83,284.71 352.60,285.00 353.30,284.31 354.00,282.64 354.70,282.60 355.40,279.62 356.10,278.34 356.80,276.90 357.43,279.47 358.07,280.31 358.70,282.60 359.32,283.65 359.95,285.38 360.57,286.58 361.20,289.10 361.80,289.86 362.40,290.12 363.00,291.76 363.60,292.40 364.40,295.00 365.20,299.70 366.05,296.99 366.90,294.00 367.50,294.10 368.10,293.90 368.70,295.53 369.30,295.60 370.00,297.02 370.70,297.77 371.40,300.20 372.10,299.62 372.80,299.81 373.50,299.27 374.20,299.20 374.84,298.95 375.48,298.39 376.12,297.80 376.76,297.10 377.40,296.40 378.08,296.38 378.77,295.47 379.45,294.76 380.13,292.93 380.82,293.76 381.50,292.70 382.14,294.08 382.78,294.04 383.42,294.70 384.06,296.54 384.70,296.40 385.31,296.05 385.93,297.42 386.54,298.65 387.15,297.67 387.76,298.74 388.38,299.63 388.99,299.24 389.60,299.70 390.28,300.08 390.96,300.36 391.64,299.84 392.32,300.31 393.00,300.50 393.63,301.36 394.27,302.29 394.90,302.75 395.63,302.12 396.37,301.45 397.10,300.90 398.25,293.00 398.87,291.85 399.48,291.55 400.10,291.10 400.73,289.48 401.37,286.93 402.00,284.75 402.40,290.75 403.15,291.44 403.90,293.00 405.00,297.50 405.75,297.52 406.50,299.33 407.25,298.60 407.85,298.84 408.45,298.42 409.05,296.86 409.65,297.98 410.25,297.50 411.00,297.45 411.75,297.72 412.50,296.75 413.40,293.75 414.07,295.07 414.75,296.00 415.90,294.90 417.00,297.50 417.63,297.72 418.27,298.22 418.90,298.25 420.00,300.10 420.75,299.88 421.50,301.48 422.25,301.60 423.00,301.60 423.75,301.11 424.50,301.25 425.10,301.95 425.70,302.35 426.30,301.45 426.90,301.94 427.50,302.40 428.25,302.00 429.00,301.47 429.75,300.90 430.90,296.75 431.25,300.10 431.88,299.89 432.50,299.61 433.12,300.74 433.75,300.27 434.38,299.35 435.00,299.75 435.75,299.05 436.50,299.40 437.15,300.60 437.80,300.87 438.45,301.72 439.10,301.60 439.76,301.72 440.43,300.93 441.09,301.17 441.75,300.90 442.50,299.83 443.25,300.09 444.00,300.10 444.75,299.84 445.50,299.84 446.25,299.40 447.00,300.99 447.75,303.10 448.35,303.14 448.95,303.41 449.55,303.46 450.15,303.63 450.75,303.50 451.50,302.70 452.25,301.65 453.00,300.90 453.75,301.55 454.50,301.65 455.25,302.00 456.00,302.22 456.75,302.79 457.50,303.50 458.25,303.75 459.00,303.97 459.75,304.25 460.90,306.50 461.58,306.54 462.27,306.50 462.95,306.55 463.63,306.46 464.32,306.15 465.00,306.50 465.75,305.76 466.50,305.09 467.25,303.90 468.00,304.40 468.75,304.58 469.50,305.00 470.12,304.95 470.75,304.34 471.38,303.86 472.00,304.29 472.62,303.79 473.25,303.90 473.85,304.35 474.45,304.00 475.05,303.75 475.65,304.46 476.25,305.00 476.92,305.44 477.58,304.82 478.25,304.90 479.00,304.86 479.75,305.41 480.50,306.00 481.13,305.90 481.77,305.65 482.40,305.25 483.02,305.55 483.63,306.18 484.25,306.20 484.87,306.24 485.48,306.67 486.10,306.75 486.73,307.09 487.37,306.79 488.00,306.40 488.63,305.57 489.27,303.79 489.90,303.00 490.55,303.70 491.20,304.73 491.85,305.16 492.50,306.00 493.13,306.27 493.77,306.10 494.40,305.90 495.15,305.10 495.90,303.75 496.57,303.43 497.23,304.09 497.90,303.00 498.60,303.90 499.30,303.93 500.00,304.50 500.75,304.39 501.50,305.05 502.25,304.10 503.00,304.63 503.75,305.63 504.50,306.00 505.10,306.20 505.70,305.84 506.30,305.42 506.90,305.73 507.50,305.60 508.25,305.36 509.00,304.90 509.75,305.31 510.50,305.27 511.25,305.10 512.00,305.77 512.75,306.67 513.50,307.10 514.13,306.85 514.77,306.36 515.40,305.90 516.02,306.25 516.63,306.50 517.25,306.90 517.88,306.95 518.50,306.34 519.12,306.33 519.75,306.37 520.38,305.82 521.00,306.10 521.62,305.96 522.25,305.49 522.88,305.86 523.50,306.20 524.12,306.18 524.75,305.98 525.38,305.92 526.00,305.56 526.62,306.47 527.25,306.08 527.88,306.23 528.50,305.90 529.10,306.05 529.70,306.65 530.30,306.61 530.90,307.70 531.50,307.90 532.25,307.81 533.00,306.73 533.75,306.90 534.50,306.95 535.25,307.20 536.00,307.10 536.75,307.04 537.50,307.90 538.10,307.27 538.70,307.30 539.30,307.25 539.90,306.89 540.50,307.10 541.15,307.56 541.80,308.06 542.45,308.61 543.10,308.90 543.74,309.07 544.39,309.26 545.03,309.18 545.67,308.59 546.31,308.78 546.96,308.65 547.60,308.90" transform="translate(0.5 0.5)"/>
</g>
<rect x="65.3" y="65.3" width="501.2" height="253.4" fill="none" stroke="#000" stroke-width="1" shape-rendering="crispEdges"/>
<line x1="77.50" y1="318.70" x2="473.20" y2="318.70" stroke="#000" stroke-width="1" shape-rendering="crispEdges"/>
<line x1="77.50" y1="318.70" x2="77.50" y2="326.70" stroke="#000" stroke-width="1" shape-rendering="crispEdges"/>
<text transform="translate(77.50 347.80) scale(0.9420 1)" font-size="13.8" text-anchor="middle">2018</text>
<line x1="209.40" y1="318.70" x2="209.40" y2="326.70" stroke="#000" stroke-width="1" shape-rendering="crispEdges"/>
<text transform="translate(209.40 347.80) scale(0.9420 1)" font-size="13.8" text-anchor="middle">2020</text>
<line x1="341.30" y1="318.70" x2="341.30" y2="326.70" stroke="#000" stroke-width="1" shape-rendering="crispEdges"/>
<text transform="translate(341.30 347.80) scale(0.9420 1)" font-size="13.8" text-anchor="middle">2022</text>
<line x1="473.20" y1="318.70" x2="473.20" y2="326.70" stroke="#000" stroke-width="1" shape-rendering="crispEdges"/>
<text transform="translate(473.20 347.80) scale(0.9420 1)" font-size="13.8" text-anchor="middle">2024</text>
<line x1="65.30" y1="314.50" x2="65.30" y2="91.48" stroke="#000" stroke-width="1" shape-rendering="crispEdges"/>
<line x1="57.30" y1="314.50" x2="65.30" y2="314.50" stroke="#000" stroke-width="1" shape-rendering="crispEdges"/>
<text transform="translate(47.00 314.50) rotate(-90) scale(0.9420 1)" font-size="13.8" text-anchor="middle">0</text>
<line x1="57.30" y1="277.33" x2="65.30" y2="277.33" stroke="#000" stroke-width="1" shape-rendering="crispEdges"/>
<text transform="translate(47.00 277.33) rotate(-90) scale(0.9420 1)" font-size="13.8" text-anchor="middle">10</text>
<line x1="57.30" y1="240.16" x2="65.30" y2="240.16" stroke="#000" stroke-width="1" shape-rendering="crispEdges"/>
<text transform="translate(47.00 240.16) rotate(-90) scale(0.9420 1)" font-size="13.8" text-anchor="middle">20</text>
<line x1="57.30" y1="202.99" x2="65.30" y2="202.99" stroke="#000" stroke-width="1" shape-rendering="crispEdges"/>
<text transform="translate(47.00 202.99) rotate(-90) scale(0.9420 1)" font-size="13.8" text-anchor="middle">30</text>
<line x1="57.30" y1="165.82" x2="65.30" y2="165.82" stroke="#000" stroke-width="1" shape-rendering="crispEdges"/>
<text transform="translate(47.00 165.82) rotate(-90) scale(0.9420 1)" font-size="13.8" text-anchor="middle">40</text>
<line x1="57.30" y1="128.65" x2="65.30" y2="128.65" stroke="#000" stroke-width="1" shape-rendering="crispEdges"/>
<text transform="translate(47.00 128.65) rotate(-90) scale(0.9420 1)" font-size="13.8" text-anchor="middle">50</text>
<line x1="57.30" y1="91.48" x2="65.30" y2="91.48" stroke="#000" stroke-width="1" shape-rendering="crispEdges"/>
<text transform="translate(47.00 91.48) rotate(-90) scale(0.9420 1)" font-size="13.8" text-anchor="middle">60</text>
<text x="315.00" y="40.00" font-size="16" text-anchor="middle" font-weight="bold" textLength="224.8" lengthAdjust="spacingAndGlyphs">GRWG stock price time-series</text>
<polyline points="683.90,210.00 684.16,222.85 684.42,203.57 684.69,221.86 684.95,203.56 685.21,220.10 685.47,201.23 685.74,214.98 686.00,199.20 686.26,247.85 686.52,204.64 686.79,217.22 687.05,174.03 687.31,216.31 687.57,196.60 687.84,222.01 688.10,198.94 688.36,217.37 688.62,195.28 688.88,220.35 689.15,196.29 689.41,220.28 689.67,197.35 689.93,215.46 690.20,202.90 690.46,218.62 690.72,196.23 690.98,220.09 691.25,197.83 691.51,215.40 691.77,175.90 692.03,229.10 692.30,196.71 692.56,231.97 692.82,196.67 693.08,240.97 693.34,194.65 693.61,231.95 693.87,196.53 694.13,223.34 694.39,189.39 694.66,225.70 694.92,186.11 695.18,240.80 695.44,147.15 695.71,231.83 695.97,186.87 696.23,252.85 696.49,192.61 696.76,223.72 697.02,197.15 697.28,229.62 697.54,197.13 697.80,221.77 698.07,185.28 698.33,221.60 698.59,186.95 698.85,215.40 699.12,190.67 699.38,218.97 699.64,191.98 699.90,234.10 700.17,201.20 700.43,221.82 700.69,195.90 700.95,213.83 701.22,206.03 701.48,218.83 701.74,199.81 702.00,221.60 702.26,203.40 702.53,217.96 702.79,201.23 703.05,222.50 703.31,206.12 703.58,222.26 703.84,196.30 704.10,216.19 704.36,195.59 704.63,230.35 704.89,179.90 705.15,218.48 705.41,200.62 705.68,219.60 705.94,195.01 706.20,221.52 706.46,200.74 706.72,219.96 706.99,195.90 707.25,224.10 707.51,203.75 707.77,226.28 708.04,200.99 708.30,228.89 708.56,201.19 708.82,221.61 709.09,197.80 709.35,221.10 709.61,199.08 709.87,234.10 710.14,193.20 710.40,232.75 710.66,134.03 710.92,234.58 711.18,192.44 711.45,229.47 711.71,194.67 711.97,219.10 712.23,194.54 712.50,239.72 712.76,194.33 713.02,231.54 713.28,192.78 713.55,219.16 713.81,193.13 714.07,221.48 714.33,198.13 714.60,235.97 714.86,200.47 715.12,228.08 715.38,193.96 715.64,219.24 715.91,197.22 716.17,217.44 716.43,198.50 716.69,215.71 716.96,195.90 717.22,216.60 717.48,200.38 717.74,219.43 718.01,193.74 718.27,215.81 718.53,184.74 718.79,222.85 719.06,189.46 719.32,216.29 719.58,193.49 719.84,216.16 720.10,149.03 720.37,225.35 720.63,190.62 720.89,218.79 721.15,174.03 721.42,225.27 721.68,179.96 721.94,220.62 722.20,188.88 722.47,221.82 722.73,191.31 722.99,219.77 723.25,200.29 723.52,239.72 723.78,185.76 724.04,216.14 724.30,194.21 724.56,220.60 724.83,191.85 725.09,221.60 725.35,192.15 725.61,216.99 725.88,200.17 726.14,227.85 726.40,197.17 726.66,222.63 726.93,199.65 727.19,214.15 727.45,205.77 727.71,221.55 727.98,195.64 728.24,222.85 728.50,196.89 728.76,214.32 729.02,197.87 729.29,229.17 729.55,191.09 729.81,230.98 730.07,188.40 730.34,252.85 730.60,200.27 730.86,220.75 731.12,191.89 731.39,229.56 731.65,184.73 731.91,232.85 732.17,188.14 732.44,230.70 732.70,190.61 732.96,227.68 733.22,170.90 733.48,230.94 733.75,195.04 734.01,248.85 734.27,182.15 734.53,221.75 734.80,199.02 735.06,219.18 735.32,192.62 735.58,221.55 735.85,202.60 736.11,220.35 736.37,195.90 736.63,221.67 736.90,200.74 737.16,219.55 737.42,199.02 737.68,216.17 737.94,202.08 738.21,227.35 738.47,196.88 738.73,237.85 738.99,197.77 739.26,230.00 739.52,203.39 739.78,225.29 740.04,197.97 740.31,234.06 740.57,199.03 740.83,218.67 741.09,199.13 741.36,243.47 741.62,197.40 741.88,221.89 742.14,187.15 742.40,227.29 742.67,197.76 742.93,214.49 743.19,195.73 743.45,221.60 743.72,190.43 743.98,216.14 744.24,178.03 744.50,220.71 744.77,193.23 745.03,224.72 745.29,187.12 745.55,216.89 745.81,187.78 746.08,215.81 746.34,198.18 746.60,219.19 746.86,196.84 747.13,219.69 747.39,193.61 747.65,214.49 747.91,198.15 748.18,217.85 748.44,185.03 748.70,219.49 748.96,200.45 749.23,216.84 749.49,199.72 749.75,221.44 750.01,201.46 750.27,214.31 750.54,192.78 750.80,218.60 751.06,194.24 751.32,223.46 751.59,197.27 751.85,225.25 752.11,197.31 752.37,219.62 752.64,199.03 752.90,226.52 753.16,197.31 753.42,228.85 753.69,196.16 753.95,221.03 754.21,197.91 754.47,220.44 754.73,190.90 755.00,214.59 755.26,198.85 755.52,220.69 755.78,190.47 756.05,217.41 756.31,190.38 756.57,226.60 756.83,189.90 757.10,221.23 757.36,193.27 757.62,216.19 757.88,204.00 758.15,215.35 758.41,199.56 758.67,215.98 758.93,202.32 759.19,213.87 759.46,195.90 759.72,211.97 759.98,202.33 760.24,221.60 760.51,202.18 760.77,211.55 761.03,208.02 761.29,211.31 761.56,205.90 761.82,211.60 762.08,203.01 762.34,215.32 762.61,203.93 762.87,215.03 763.13,198.22 763.39,219.90 763.65,196.53 763.92,233.85 764.18,200.40 764.44,218.31 764.70,204.99 764.97,223.00 765.23,189.59 765.49,221.93 765.75,186.88 766.02,214.58 766.28,144.03 766.54,224.10 766.80,185.57 767.07,228.92 767.33,194.11 767.59,221.89 767.85,193.37 768.11,237.85 768.38,185.90 768.64,221.36 768.90,194.61 769.16,230.34 769.43,199.16 769.69,230.81 769.95,204.75 770.21,232.85 770.48,207.15 770.74,221.49 771.00,203.47 771.26,215.62 771.53,205.11 771.79,219.72 772.05,203.34 772.31,212.73 772.57,205.18 772.84,215.35 773.10,199.57 773.36,217.32 773.62,191.08 773.89,218.05 774.15,197.59 774.41,213.37 774.67,199.99 774.94,216.75 775.20,184.03 775.46,216.90 775.72,195.98 775.99,217.15 776.25,188.85 776.51,230.35 776.77,186.83 777.03,220.32 777.30,188.14 777.56,214.74 777.82,178.03 778.08,216.39 778.35,190.48 778.61,217.04 778.87,188.59 779.13,220.35 779.40,197.16 779.66,217.57 779.92,187.78 780.18,225.03 780.45,192.40 780.71,220.53 780.97,195.15 781.23,231.60 781.49,193.43 781.76,219.74 782.02,184.03 782.28,225.13 782.54,188.54 782.81,217.54 783.07,195.86 783.33,226.92 783.59,192.53 783.86,227.85 784.12,192.15 784.38,220.65 784.64,202.14 784.91,219.08 785.17,191.52 785.43,224.33 785.69,191.94 785.95,221.73 786.22,189.03 786.48,222.72 786.74,201.26 787.00,226.48 787.27,196.13 787.53,228.47 787.79,200.40 788.05,223.01 788.32,199.65 788.58,218.99 788.84,204.60 789.10,216.13 789.37,203.01 789.63,220.35 789.89,198.94 790.15,215.88 790.41,205.91 790.68,217.27 790.94,197.52 791.20,234.72 791.46,195.28 791.73,216.20 791.99,193.09 792.25,219.28 792.51,202.31 792.78,221.60 793.04,194.70 793.30,219.30 793.56,189.03 793.83,214.88 794.09,196.77 794.35,235.97 794.61,189.74 794.87,216.36 795.14,168.15 795.40,220.41 795.66,190.86 795.92,217.53 796.19,189.79 796.45,216.11 796.71,179.52 796.97,217.85 797.24,178.03 797.50,214.66 797.76,183.03 798.02,215.03 798.29,201.68 798.55,220.19 798.81,190.31 799.07,220.28 799.33,182.15 799.60,221.26 799.86,191.11 800.12,244.72 800.38,202.41 800.65,219.31 800.91,190.09 801.17,221.90 801.43,200.84 801.70,219.85 801.96,188.40 802.22,221.60 802.48,202.15 802.75,217.00 803.01,198.40 803.27,222.01 803.53,204.89 803.79,251.60 804.06,198.82 804.32,220.82 804.58,203.86 804.84,214.29 805.11,179.03 805.37,218.98 805.63,203.31 805.89,212.82 806.16,203.17 806.42,216.60 806.68,205.58 806.94,216.45 807.21,207.15 807.47,213.99 807.73,202.15 807.99,214.73 808.25,202.21 808.52,218.96 808.78,196.22 809.04,219.10 809.30,200.69 809.57,217.93 809.83,194.47 810.09,218.72 810.35,185.90 810.62,218.11 810.88,190.90 811.14,225.81 811.40,202.57 811.67,223.67 811.93,188.40 812.19,216.42 812.45,188.38 812.71,237.22 812.98,190.82 813.24,225.80 813.50,189.55 813.76,222.27 814.03,184.03 814.29,226.23 814.55,190.37 814.81,227.21 815.08,188.17 815.34,230.35 815.60,199.39 815.86,224.33 816.13,161.90 816.39,218.56 816.65,177.88 816.91,222.81 817.17,184.76 817.44,221.60 817.70,184.40 817.96,218.82 818.22,174.03 818.49,231.37 818.75,194.19 819.01,238.64 819.27,169.03 819.54,258.85 819.80,176.64 820.06,228.93 820.32,174.25 820.59,253.73 820.85,179.89 821.11,227.29 821.37,168.15 821.63,241.32 821.90,173.95 822.16,289.73 822.42,177.15 822.68,259.65 822.95,181.21 823.21,254.77 823.47,193.54 823.73,258.85 824.00,156.15 824.26,258.30 824.52,179.67 824.78,232.72 825.05,183.69 825.31,257.85 825.57,183.40 825.83,234.99 826.09,186.16 826.36,224.62 826.62,184.02 826.88,222.76 827.14,170.90 827.41,221.60 827.67,192.65 827.93,222.38 828.19,198.88 828.46,217.32 828.72,190.90 828.98,218.21 829.24,202.74 829.51,216.93 829.77,198.55 830.03,224.10 830.29,187.40 830.55,224.88 830.82,196.02 831.08,224.54 831.34,196.48 831.60,222.57 831.87,182.03 832.13,221.04 832.39,174.91 832.65,240.97 832.92,152.15 833.18,227.57 833.44,193.82 833.70,228.68 833.97,178.30 834.23,222.02 834.49,174.39 834.75,220.23 835.01,170.90 835.28,227.85 835.54,188.37 835.80,229.23 836.06,189.62 836.33,221.46 836.59,184.65 836.85,218.97 837.11,181.54 837.38,225.34 837.64,181.22 837.90,264.10 838.16,178.93 838.43,234.90 838.69,164.03 838.95,217.93 839.21,195.40 839.47,223.73 839.74,174.22 840.00,230.42 840.26,177.16 840.52,238.92 840.79,190.30 841.05,239.72 841.31,173.20 841.57,218.12 841.84,165.28 842.10,224.34 842.36,194.16 842.62,222.25 842.89,193.66 843.15,222.59 843.41,191.07 843.67,221.60 843.93,190.90 844.20,219.19 844.46,200.54 844.72,223.58 844.98,187.78 845.25,216.67 845.51,200.86 845.77,222.55 846.03,188.47 846.30,224.61 846.56,195.06 846.82,226.60 847.08,163.15 847.35,226.29 847.61,193.58 847.87,224.31 848.13,193.34 848.39,227.96 848.66,190.90 848.92,237.85 849.18,183.90 849.44,237.27 849.71,186.18 849.97,231.04 850.23,75.90 850.49,225.07 850.76,180.46 851.02,235.29 851.28,127.15 851.54,281.85 851.81,147.91 852.07,222.69 852.33,187.58 852.59,232.41 852.85,180.28 853.12,232.99 853.38,181.84 853.64,223.54 853.90,191.50 854.17,226.48 854.43,198.95 854.69,237.85 854.95,177.78 855.22,234.24 855.48,201.00 855.74,236.34 856.00,181.50 856.27,229.81 856.53,181.56 856.79,239.72 857.05,192.95 857.31,220.50 857.58,192.78 857.84,217.36 858.10,177.78 858.36,226.50 858.63,182.88 858.89,224.10 859.15,183.00 859.41,218.83 859.68,186.45 859.94,221.79 860.20,182.52 860.46,223.85 860.72,180.28 860.99,226.42 861.25,180.76 861.51,230.35 861.77,182.77 862.04,218.58 862.30,194.60 862.56,228.37 862.82,182.78 863.09,261.98 863.35,177.11 863.61,233.57 863.87,170.90 864.14,233.62 864.40,183.67 864.66,247.79 864.92,137.15 865.18,243.00 865.45,163.71 865.71,249.31 865.97,170.66 866.23,248.85 866.50,154.03 866.76,240.40 867.02,179.29 867.28,233.93 867.55,181.04 867.81,223.58 868.07,180.90 868.33,229.72 868.60,199.38 868.86,229.65 869.12,198.31 869.38,216.39 869.64,200.07 869.91,229.85 870.17,187.78 870.43,219.10 870.69,202.77 870.96,241.60 871.22,190.81 871.48,226.29 871.74,190.75 872.01,227.39 872.27,169.03 872.53,225.51 872.79,196.70 873.06,229.10 873.32,191.61 873.58,228.67 873.84,190.90 874.10,228.22 874.37,182.93 874.63,228.83 874.89,196.40 875.15,219.55 875.42,174.03 875.68,216.09 875.94,176.15 876.20,227.85 876.47,180.67 876.73,228.71 876.99,162.15 877.25,222.82 877.52,197.91 877.78,219.88 878.04,189.57 878.30,223.41 878.56,200.12 878.83,229.21 879.09,199.65 879.35,240.35 879.61,200.37 879.88,237.28 880.14,196.13 880.40,229.70 880.66,183.15 880.93,234.72 881.19,173.03 881.45,238.10 881.71,200.33 881.98,234.13 882.24,189.49 882.50,261.98 882.76,180.28 883.02,241.39 883.29,190.12 883.55,229.01 883.81,187.21 884.07,224.62 884.34,187.15 884.60,246.60 884.86,200.20 885.12,228.56 885.39,162.15 885.65,247.06 885.91,197.00 886.17,255.97 886.44,175.57 886.70,239.90 886.96,147.15 887.22,231.72 887.48,183.01 887.75,235.22 888.01,188.44 888.27,234.72 888.53,190.35 888.80,222.95 889.06,177.78 889.32,228.21 889.58,194.77 889.85,230.41 890.11,194.96 890.37,258.85 890.63,174.84 890.90,231.34 891.16,166.90 891.42,224.27 891.68,181.59 891.94,231.60 892.21,168.58 892.47,218.66 892.73,168.62 892.99,216.91 893.26,164.90 893.52,222.25 893.78,179.54 894.04,240.97 894.31,194.75 894.57,229.57 894.83,189.65 895.09,223.59 895.36,196.01 895.62,226.25 895.88,194.60 896.14,226.60 896.40,194.65 896.67,220.48 896.93,201.26 897.19,226.41 897.45,191.38 897.72,225.60 897.98,197.59 898.24,222.36 898.50,183.46 898.77,224.20 899.03,165.90 899.29,243.85 899.55,178.32 899.82,219.83 900.08,193.60 900.34,220.76 900.60,181.78 900.86,227.17 901.13,177.15 901.39,227.85 901.65,196.15 901.91,221.11 902.18,194.38 902.44,218.60 902.70,192.15 902.96,219.07 903.23,192.61 903.49,225.96 903.75,203.26 904.01,228.38 904.28,203.59 904.54,221.89 904.80,195.28 905.06,234.72 905.32,195.78 905.59,221.23 905.85,201.52 906.11,222.00 906.37,202.69 906.64,216.63 906.90,169.03 907.16,221.60 907.42,197.92 907.69,229.23 907.95,194.43 908.21,229.68 908.47,195.11 908.74,242.85 909.00,192.15 909.26,236.22 909.52,198.26 909.78,238.96 910.05,193.20 910.31,254.72 910.57,196.93 910.83,232.28 911.10,194.03 911.36,220.77 911.62,195.70 911.88,224.84 912.15,195.20 912.41,219.10 912.67,194.46 912.93,219.03 913.20,189.90 913.46,218.30 913.72,201.35 913.98,220.58 914.24,204.69 914.51,219.59 914.77,199.51 915.03,223.26 915.29,199.65 915.56,280.98 915.82,201.21 916.08,221.09 916.34,198.49 916.61,220.58 916.87,196.95 917.13,225.65 917.39,190.90 917.66,223.12 917.92,195.16 918.18,225.35 918.44,198.10 918.70,228.02 918.97,194.03 919.23,224.85 919.49,203.95 919.75,229.31 920.02,201.04 920.28,227.19 920.54,207.87 920.80,229.40 921.07,207.15 921.33,245.97 921.59,201.25 921.85,230.96 922.12,194.65 922.38,229.05 922.64,199.40 922.90,235.53 923.16,201.85 923.43,231.66 923.69,199.60 923.95,235.35 924.21,192.78 924.48,236.04 924.74,200.90 925.00,219.20 925.26,202.35 925.53,226.92 925.79,197.78 926.05,227.26 926.31,200.73 926.58,231.87 926.84,200.97 927.10,257.85 927.36,190.90 927.62,229.64 927.89,195.48 928.15,224.96 928.41,202.37 928.67,226.20 928.94,195.90 929.20,217.95 929.46,199.06 929.72,224.10 929.99,180.20 930.25,224.24 930.51,181.67 930.77,224.77 931.04,184.93 931.30,231.00 931.56,158.15 931.82,228.48 932.08,163.21 932.35,232.43 932.61,159.03 932.87,241.60 933.13,182.47 933.40,221.16 933.66,187.39 933.92,226.09 934.18,194.03 934.45,224.38 934.71,200.94 934.97,224.10 935.23,201.64 935.50,235.35 935.76,199.65 936.02,231.97 936.28,201.38 936.54,223.53 936.81,199.22 937.07,227.53 937.33,189.03 937.59,229.67 937.86,193.79 938.12,225.00 938.38,190.76 938.64,232.85 938.91,190.90 939.17,230.03 939.43,191.00 939.69,227.63 939.96,201.20 940.22,226.25 940.48,194.11 940.74,225.35 941.00,204.34 941.27,228.72 941.53,189.03 941.79,221.56 942.05,203.37 942.32,255.97 942.58,202.58 942.84,230.86 943.10,199.03 943.37,220.72 943.63,197.62 943.89,231.06 944.15,203.36 944.42,232.37 944.68,197.92 944.94,232.85 945.20,194.65 945.46,232.95 945.73,191.00 945.99,232.82 946.25,197.61 946.51,231.29 946.78,188.78 947.04,232.58 947.30,158.15 947.56,235.97 947.83,187.13 948.09,224.74 948.35,194.03 948.61,221.91 948.88,180.28 949.14,219.62 949.40,189.16 949.66,222.16 949.92,188.93 950.19,236.60 950.45,188.27 950.71,237.13 950.97,181.53 951.24,237.97 951.50,189.71 951.76,233.97 952.02,186.09 952.29,247.85 952.55,191.57 952.81,231.38 953.07,170.90 953.34,222.12 953.60,187.18 953.86,235.88 954.12,201.27 954.38,241.60 954.65,187.49 954.91,239.88 955.17,184.03 955.43,239.25 955.70,190.69 955.96,229.69 956.22,184.59 956.48,218.52 956.75,187.29 957.01,229.85 957.27,169.03 957.53,232.85 957.80,196.19 958.06,226.35 958.32,196.04 958.58,230.40 958.84,192.78 959.11,225.46 959.37,203.05 959.63,227.08 959.89,205.90 960.16,222.88 960.42,203.95 960.68,231.60 960.94,203.74 961.21,223.79 961.47,200.90 961.73,236.93 961.99,193.79 962.26,236.22 962.52,193.79 962.78,239.72 963.04,177.15 963.30,238.40 963.57,181.74 963.83,249.72 964.09,197.78 964.35,247.63 964.62,173.57 964.88,245.31 965.14,154.03 965.40,308.10 965.67,199.14 965.93,234.22 966.19,171.67 966.45,248.99 966.72,170.90 966.98,259.10 967.24,177.07 967.50,242.22 967.76,185.86 968.03,236.79 968.29,182.78 968.55,230.49 968.81,187.79 969.08,232.85 969.34,188.73 969.60,226.89 969.86,188.04 970.13,220.14 970.39,185.90 970.65,218.39 970.91,186.47 971.18,256.60 971.44,187.47 971.70,226.36 971.96,182.15 972.22,233.20 972.49,186.11 972.75,224.19 973.01,190.22 973.27,227.32 973.54,188.26 973.80,235.35 974.06,178.26 974.32,233.85 974.59,195.28 974.85,227.60 975.11,164.03 975.37,219.18 975.63,170.18 975.90,230.35 976.16,167.54 976.42,226.26 976.68,197.22 976.95,226.46 977.21,175.85 977.47,236.80 977.73,166.07 978.00,239.10 978.26,166.53 978.52,222.09 978.78,174.43 979.05,225.22 979.31,190.01 979.57,218.82 979.83,198.12 980.09,235.15 980.36,191.29 980.62,245.97 980.88,144.03 981.14,238.48 981.41,193.81 981.67,219.02 981.93,185.28 982.19,226.17 982.46,190.90 982.72,224.77 982.98,203.15 983.24,239.72 983.51,193.16 983.77,238.15 984.03,175.03 984.29,221.65 984.55,194.49 984.82,235.48 985.08,196.83 985.34,239.17 985.60,199.89 985.87,239.60 986.13,194.44 986.39,218.50 986.65,204.78 986.92,239.10 987.18,193.03 987.44,220.69 987.70,202.68 987.97,232.76 988.23,205.72 988.49,233.28 988.75,203.40 989.01,218.36 989.28,200.30 989.54,231.60 989.80,195.86 990.06,228.47 990.33,187.78 990.59,230.03 990.85,192.83 991.11,228.04 991.38,140.28 991.64,224.79 991.90,190.16 992.16,255.97 992.43,179.66 992.69,229.11 992.95,186.44 993.21,221.90 993.47,198.89 993.74,230.05 994.00,179.65 994.26,229.10 994.52,188.12 994.79,227.26 995.05,170.90 995.31,231.49 995.57,178.62 995.84,224.54 996.10,182.81 996.36,246.60 996.62,95.90 996.89,231.67 997.15,178.01 997.41,234.79 997.67,173.05 997.93,224.71 998.20,199.33 998.46,224.29 998.72,182.76 998.98,230.12 999.25,172.85 999.51,235.35 999.77,196.31 1000.03,235.21 1000.30,169.65 1000.56,236.80 1000.82,178.76 1001.08,226.59 1001.35,172.05 1001.61,237.91 1001.87,167.78 1002.13,240.83 1002.39,189.57 1002.66,267.60 1002.92,192.46 1003.18,239.48 1003.44,203.39 1003.71,238.60 1003.97,203.40 1004.23,227.27 1004.49,202.13 1004.76,237.20 1005.02,201.77 1005.28,242.22 1005.54,202.59 1005.81,235.66 1006.07,196.15 1006.33,228.83 1006.59,194.65 1006.85,232.60 1007.12,193.60 1007.38,231.60 1007.64,194.59 1007.90,231.26 1008.17,178.03 1008.43,226.33 1008.69,195.20 1008.95,227.28 1009.22,199.72 1009.48,220.95 1009.74,189.65 1010.00,228.79 1010.27,197.25 1010.53,242.85 1010.79,197.10 1011.05,224.24 1011.31,191.53 1011.58,215.99 1011.84,190.65 1012.10,220.07 1012.36,202.13 1012.63,221.31 1012.89,175.90 1013.15,221.60 1013.41,195.03 1013.68,218.24 1013.94,195.97 1014.20,214.39 1014.46,203.81 1014.73,225.62 1014.99,191.53 1015.25,221.77 1015.51,196.21 1015.77,219.67 1016.04,194.57 1016.30,240.35 1016.56,194.03 1016.82,226.37 1017.09,196.54 1017.35,228.39 1017.61,202.92 1017.87,216.11 1018.14,199.03 1018.40,218.93 1018.66,204.75 1018.92,227.85 1019.19,198.62 1019.45,227.45 1019.71,198.58 1019.97,228.23 1020.23,193.40 1020.50,216.74 1020.76,196.47 1021.02,222.06 1021.28,202.65 1021.55,234.72 1021.81,200.55 1022.07,223.47 1022.33,196.01 1022.60,226.71 1022.86,195.71 1023.12,220.45 1023.38,189.90 1023.65,217.11 1023.91,193.33 1024.17,224.10 1024.43,201.50 1024.69,215.40 1024.96,194.65 1025.22,220.80 1025.48,193.45 1025.74,227.86 1026.01,192.88 1026.27,232.85 1026.53,190.90 1026.79,226.27 1027.06,189.85 1027.32,229.23 1027.58,199.55 1027.84,218.60 1028.11,166.90 1028.37,228.75 1028.63,182.30 1028.89,228.47 1029.15,184.04 1029.42,229.00 1029.68,177.15 1029.94,223.79 1030.20,191.78 1030.47,220.51 1030.73,186.39 1030.99,252.85 1031.25,80.90 1031.52,221.61 1031.78,183.88 1032.04,217.48 1032.30,184.25 1032.57,222.83 1032.83,180.90 1033.09,235.35 1033.35,195.42 1033.61,233.28 1033.88,184.27 1034.14,230.55 1034.40,184.03 1034.66,223.26 1034.93,199.78 1035.19,227.22 1035.45,187.38 1035.71,224.35 1035.98,193.89 1036.24,220.92 1036.50,187.78 1036.76,222.63 1037.03,195.58 1037.29,218.01 1037.55,202.39 1037.81,216.36 1038.07,199.65 1038.34,232.85 1038.60,203.91 1038.86,225.16 1039.12,201.00 1039.39,224.10 1039.65,201.30 1039.91,218.85 1040.17,189.90 1040.44,220.25 1040.70,200.24 1040.96,222.83 1041.22,197.69 1041.49,228.23 1041.75,186.90 1042.01,230.35 1042.27,202.75 1042.53,228.88 1042.80,193.52 1043.06,220.05 1043.32,196.24 1043.58,221.25 1043.85,191.53 1044.11,219.89 1044.37,197.99 1044.63,229.91 1044.90,190.64 1045.16,229.10 1045.42,180.03 1045.68,221.30 1045.95,191.70 1046.21,217.03 1046.47,193.54 1046.73,221.36 1046.99,191.53 1047.26,308.10 1047.52,196.69 1047.78,220.57 1048.04,205.08 1048.31,214.12 1048.57,203.16 1048.83,220.36 1049.09,204.65 1049.36,221.60 1049.62,197.61 1049.88,216.18 1050.14,197.07 1050.41,215.17 1050.67,199.93 1050.93,220.03 1051.19,164.90 1051.45,220.35 1051.72,201.04 1051.98,215.05 1052.24,191.48 1052.50,220.20 1052.77,196.87 1053.03,217.82 1053.29,187.15 1053.55,231.60 1053.82,195.29 1054.08,222.89 1054.34,204.66 1054.60,216.10 1054.87,205.57 1055.13,220.98 1055.39,207.15 1055.65,215.89 1055.91,204.66 1056.18,225.97 1056.44,203.41 1056.70,226.77 1056.96,204.01 1057.23,215.66 1057.49,200.74 1057.75,224.54 1058.01,197.78 1058.28,230.97 1058.54,204.59 1058.80,230.50 1059.06,203.00 1059.33,220.64 1059.59,202.97 1059.85,228.20 1060.11,199.65 1060.37,249.72 1060.64,200.00 1060.90,227.14 1061.16,202.55 1061.42,230.02 1061.69,191.43 1061.95,232.85 1062.21,187.15 1062.47,229.97 1062.74,192.97 1063.00,230.52 1063.26,199.17 1063.52,232.13 1063.79,176.95 1064.05,256.85 1064.31,183.12 1064.57,226.97 1064.83,180.00 1065.10,216.81 1065.36,164.90 1065.62,221.40 1065.88,189.99 1066.15,230.97 1066.41,169.03 1066.67,232.20 1066.93,197.51 1067.20,220.61 1067.46,179.08 1067.72,224.16 1067.98,199.85 1068.25,242.85 1068.51,177.15 1068.77,232.25 1069.03,186.34 1069.29,222.33 1069.56,184.65 1069.82,235.86 1070.08,201.19 1070.34,222.96 1070.61,191.43 1070.87,231.81 1071.13,162.15 1071.39,239.72 1071.66,195.70 1071.92,219.60 1072.18,195.64 1072.44,224.08 1072.71,195.90 1072.97,220.35 1073.23,194.33 1073.49,217.58 1073.75,190.34 1074.02,229.38 1074.28,193.95 1074.54,225.61 1074.80,183.78 1075.07,239.72 1075.33,170.90 1075.59,236.04 1075.85,183.64 1076.12,226.16 1076.38,180.90 1076.64,226.09 1076.90,191.58 1077.17,236.61 1077.43,188.28 1077.69,235.97 1077.95,191.04 1078.21,234.67 1078.48,190.90 1078.74,229.43 1079.00,189.89 1079.26,235.94 1079.53,198.84 1079.79,227.74 1080.05,193.11 1080.31,226.66 1080.58,194.20 1080.84,240.97 1081.10,186.90 1081.36,228.02 1081.63,203.44 1081.89,220.55 1082.15,188.47 1082.41,230.07 1082.67,189.03 1082.94,227.22 1083.20,191.95 1083.46,230.35 1083.72,192.34 1083.99,215.85 1084.25,192.78 1084.51,225.97 1084.77,199.26 1085.04,220.91 1085.30,202.88 1085.56,231.13 1085.82,203.40 1086.09,222.98 1086.35,195.66 1086.61,235.97 1086.87,182.05 1087.13,224.09 1087.40,188.30 1087.66,230.08 1087.92,190.43 1088.18,234.10 1088.45,160.90 1088.71,229.70 1088.97,182.57 1089.23,230.30 1089.50,173.33 1089.76,224.10 1090.02,153.03 1090.28,275.98 1090.54,187.38 1090.81,231.11 1091.07,193.06 1091.33,227.19 1091.59,202.17 1091.86,241.60 1092.12,195.90 1092.38,233.56 1092.64,192.84 1092.91,232.36 1093.17,196.20 1093.43,234.72 1093.69,177.15 1093.96,229.02 1094.22,181.47 1094.48,227.72 1094.74,187.06 1095.00,285.60 1095.27,85.90 1095.53,224.95 1095.79,184.04 1096.05,222.22 1096.32,198.37 1096.58,220.97 1096.84,172.04 1097.10,216.23 1097.37,169.90 1097.63,218.39 1097.89,192.47 1098.15,248.85 1098.42,196.77 1098.68,219.92 1098.94,192.78 1099.20,213.92 1099.46,196.01 1099.73,216.90 1099.99,205.45 1100.25,216.20 1100.51,200.90 1100.78,217.88 1101.04,205.91 1101.30,217.85 1101.56,195.28 1101.83,218.59 1102.09,205.47 1102.35,216.72 1102.61,203.89 1102.88,220.13 1103.14,202.16 1103.40,230.35 1103.66,200.97 1103.92,219.94 1104.19,201.43 1104.45,221.82 1104.71,200.90 1104.97,219.56 1105.24,197.52 1105.50,221.54 1105.76,194.10 1106.02,215.87 1106.29,192.15 1106.55,222.85 1106.81,191.08 1107.07,222.53 1107.34,192.80 1107.60,227.66 1107.86,185.90 1108.12,222.93 1108.38,187.94 1108.65,229.89 1108.91,190.52 1109.17,224.51 1109.43,192.99 1109.70,226.87 1109.96,167.78 1110.22,234.72 1110.48,195.27 1110.75,229.14 1111.01,196.70 1111.27,225.10 1111.53,193.32 1111.80,233.55 1112.06,193.40 1112.32,227.29 1112.58,199.52 1112.84,224.76 1113.11,198.86 1113.37,243.47 1113.63,183.40 1113.89,218.22 1114.16,183.67 1114.42,220.80 1114.68,184.82 1114.94,224.10 1115.21,174.03 1115.47,217.45 1115.73,195.64 1115.99,224.29 1116.26,205.09 1116.52,215.08 1116.78,198.40 1117.04,252.85 1117.30,197.40 1117.57,221.94 1117.83,199.73 1118.09,222.56 1118.35,199.34 1118.62,218.32 1118.88,197.16 1119.14,216.67 1119.40,199.94 1119.67,219.10 1119.93,187.15 1120.19,221.12 1120.45,196.15 1120.72,219.00 1120.98,203.27 1121.24,218.33 1121.50,199.11 1121.76,229.10 1122.03,197.20 1122.29,222.87 1122.55,194.03 1122.81,219.67 1123.08,199.24 1123.34,220.86 1123.60,194.81 1123.86,222.85 1124.13,199.45 1124.39,221.69 1124.65,203.62 1124.91,217.24 1125.18,197.78 1125.44,220.62 1125.70,198.71 1125.96,214.55 1126.22,193.38 1126.49,218.67 1126.75,184.03 1127.01,219.10 1127.27,191.20 1127.54,218.69 1127.80,200.91 1128.06,218.87 1128.32,195.62 1128.59,223.02 1128.85,190.90 1129.11,219.91 1129.37,193.53 1129.64,228.05 1129.90,196.88 1130.16,274.10 1130.42,192.40 1130.68,218.30 1130.95,180.90 1131.21,232.11 1131.47,197.00 1131.73,230.72 1132.00,204.03 1132.26,234.10 1132.52,188.40 1132.78,224.98 1133.05,191.65 1133.31,218.04 1133.57,194.02 1133.83,222.85 1134.10,184.03 1134.36,221.41 1134.62,195.68 1134.88,224.58 1135.14,197.03 1135.41,219.78 1135.67,203.84 1135.93,217.00 1136.19,199.03 1136.46,224.72 1136.72,205.82 1136.98,217.30 1137.24,203.54 1137.51,224.13 1137.77,204.27 1138.03,223.99 1138.29,204.65 1138.56,214.45 1138.82,204.53 1139.08,219.22 1139.34,204.73 1139.60,219.57 1139.87,185.28 1140.13,226.60 1140.39,207.51 1140.65,224.45 1140.92,205.23 1141.18,219.08 1141.44,205.76 1141.70,219.27 1141.97,204.65 1142.23,223.45 1142.49,204.29 1142.75,223.68 1143.02,204.27 1143.28,222.85 1143.54,204.89 1143.80,214.69 1144.06,200.90 1144.33,223.12 1144.59,202.53 1144.85,223.66 1145.11,196.90 1145.38,218.43 1145.64,197.35 1145.90,224.55 1146.16,166.90 1146.43,237.60 1146.69,200.75 1146.95,219.57 1147.21,195.21 1147.48,217.67 1147.74,193.40 1148.00,224.10" fill="none" stroke="#0000FF" stroke-width="2" stroke-linejoin="round" shape-rendering="crispEdges" clip-path="url(#c1)"/>
<polyline points="683.90,210.00 684.16,218.77 684.42,209.14 684.69,209.87 684.95,206.94 685.21,212.01 685.47,207.52 685.74,205.95 686.00,210.73 686.26,212.27 686.52,210.93 686.79,214.79 687.05,211.03 687.31,211.50 687.57,208.96 687.84,203.36 688.10,203.51 688.36,212.21 688.62,207.01 688.88,208.54 689.15,206.22 689.41,209.89 689.67,208.68 689.93,212.33 690.20,213.90 690.46,205.67 690.72,203.55 690.98,206.71 691.25,207.84 691.51,208.68 691.77,212.24 692.03,218.85 692.30,206.71 692.56,209.01 692.82,212.75 693.08,214.79 693.34,203.65 693.61,218.96 693.87,201.25 694.13,206.82 694.39,198.23 694.66,213.56 694.92,210.11 695.18,212.52 695.44,209.23 695.71,211.04 695.97,213.72 696.23,204.66 696.49,213.90 696.76,212.52 697.02,207.25 697.28,212.67 697.54,212.16 697.80,209.02 698.07,211.01 698.33,213.43 698.59,210.28 698.85,210.60 699.12,205.31 699.38,213.02 699.64,207.33 699.90,212.16 700.17,210.98 700.43,210.90 700.69,209.26 700.95,207.63 701.22,205.19 701.48,211.75 701.74,206.34 702.00,207.26 702.26,207.77 702.53,212.09 702.79,207.52 703.05,210.30 703.31,209.03 703.58,210.74 703.84,208.17 704.10,206.93 704.36,206.89 704.63,210.56 704.89,207.26 705.15,206.01 705.41,212.57 705.68,205.95 705.94,213.67 706.20,208.51 706.46,208.37 706.72,205.92 706.99,209.23 707.25,211.32 707.51,212.19 707.77,213.44 708.04,207.89 708.30,210.65 708.56,211.97 708.82,208.54 709.09,212.10 709.35,211.20 709.61,211.26 709.87,205.45 710.14,205.98 710.40,210.43 710.66,214.32 710.92,209.24 711.18,209.80 711.45,209.04 711.71,208.44 711.97,210.88 712.23,207.46 712.50,207.70 712.76,209.42 713.02,211.12 713.28,211.32 713.55,208.10 713.81,213.02 714.07,210.44 714.33,212.06 714.60,213.83 714.86,208.34 715.12,210.07 715.38,209.90 715.64,207.60 715.91,214.11 716.17,210.18 716.43,209.21 716.69,207.71 716.96,212.98 717.22,208.03 717.48,209.40 717.74,206.27 718.01,206.87 718.27,208.49 718.53,204.09 718.79,210.00 719.06,211.17 719.32,210.94 719.58,212.59 719.84,210.08 720.10,215.17 720.37,210.23 720.63,208.83 720.89,207.27 721.15,210.96 721.42,206.18 721.68,211.79 721.94,210.37 722.20,215.16 722.47,212.09 722.73,212.18 722.99,205.99 723.25,208.58 723.52,212.97 723.78,208.57 724.04,208.71 724.30,210.63 724.56,209.94 724.83,210.82 725.09,211.46 725.35,214.76 725.61,210.24 725.88,206.55 726.14,206.15 726.40,210.75 726.66,212.01 726.93,210.57 727.19,205.65 727.45,208.30 727.71,212.83 727.98,208.24 728.24,211.00 728.50,207.50 728.76,211.98 729.02,217.13 729.29,209.72 729.55,206.32 729.81,215.36 730.07,210.52 730.34,205.75 730.60,211.81 730.86,213.15 731.12,200.17 731.39,205.98 731.65,205.03 731.91,214.58 732.17,202.10 732.44,218.01 732.70,212.51 732.96,206.42 733.22,203.57 733.48,214.49 733.75,213.21 734.01,209.05 734.27,219.32 734.53,206.91 734.80,207.30 735.06,212.16 735.32,207.40 735.58,206.25 735.85,208.51 736.11,207.48 736.37,202.70 736.63,212.30 736.90,209.22 737.16,212.52 737.42,205.02 737.68,211.96 737.94,207.71 738.21,209.34 738.47,209.68 738.73,201.74 738.99,210.41 739.26,203.18 739.52,206.03 739.78,203.65 740.04,210.79 740.31,205.54 740.57,206.37 740.83,212.95 741.09,208.71 741.36,210.62 741.62,222.61 741.88,203.75 742.14,213.46 742.40,190.90 742.67,218.36 742.93,212.17 743.19,213.09 743.45,209.93 743.72,207.29 743.98,201.56 744.24,208.52 744.50,207.78 744.77,213.52 745.03,207.22 745.29,203.49 745.55,203.58 745.81,215.18 746.08,207.64 746.34,205.80 746.60,207.81 746.86,213.96 747.13,210.81 747.39,208.44 747.65,208.90 747.91,212.15 748.18,212.36 748.44,207.44 748.70,213.54 748.96,206.20 749.23,209.95 749.49,209.20 749.75,213.53 750.01,211.58 750.27,208.18 750.54,213.89 750.80,204.52 751.06,213.72 751.32,213.23 751.59,209.89 751.85,208.73 752.11,208.06 752.37,210.98 752.64,210.55 752.90,210.62 753.16,211.52 753.42,216.82 753.69,207.46 753.95,209.34 754.21,209.58 754.47,211.66 754.73,209.34 755.00,210.03 755.26,210.20 755.52,207.08 755.78,214.55 756.05,209.33 756.31,212.82 756.57,210.84 756.83,206.04 757.10,212.86 757.36,210.26 757.62,211.56 757.88,207.49 758.15,212.59 758.41,214.45 758.67,208.64 758.93,210.94 759.19,210.84 759.46,207.15 759.72,212.35 759.98,210.99 760.24,209.61 760.51,208.91 760.77,211.36 761.03,207.27 761.29,204.08 761.56,211.08 761.82,205.06 762.08,215.57 762.34,206.28 762.61,210.91 762.87,209.64 763.13,210.90 763.39,211.68 763.65,213.37 763.92,211.04 764.18,206.58 764.44,206.99 764.70,210.92 764.97,211.39 765.23,211.85 765.49,213.96 765.75,204.04 766.02,207.81 766.28,209.61 766.54,211.62 766.80,213.37 767.07,205.65 767.33,207.42 767.59,213.14 767.85,206.73 768.11,213.65 768.38,207.88 768.64,213.17 768.90,211.37 769.16,208.37 769.43,208.57 769.69,206.66 769.95,212.76 770.21,204.79 770.48,205.56 770.74,210.03 771.00,208.46 771.26,212.57 771.53,210.50 771.79,214.36 772.05,209.71 772.31,209.34 772.57,205.57 772.84,206.87 773.10,207.31 773.36,210.96 773.62,210.59 773.89,210.90 774.15,209.41 774.41,215.10 774.67,207.96 774.94,214.14 775.20,211.36 775.46,209.94 775.72,211.36 775.99,205.61 776.25,210.26 776.51,205.85 776.77,206.90 777.03,211.31 777.30,208.94 777.56,206.57 777.82,210.88 778.08,209.77 778.35,211.47 778.61,209.85 778.87,210.93 779.13,209.78 779.40,207.35 779.66,206.32 779.92,209.65 780.18,209.47 780.45,207.74 780.71,210.77 780.97,212.79 781.23,207.07 781.49,212.47 781.76,207.54 782.02,213.89 782.28,202.62 782.54,214.21 782.81,206.58 783.07,203.95 783.33,213.88 783.59,204.01 783.86,213.32 784.12,217.12 784.38,207.09 784.64,207.17 784.91,210.82 785.17,220.19 785.43,210.22 785.69,211.23 785.95,211.53 786.22,211.17 786.48,214.73 786.74,211.50 787.00,205.25 787.27,205.92 787.53,210.95 787.79,211.88 788.05,208.95 788.32,207.20 788.58,208.09 788.84,213.09 789.10,209.57 789.37,209.63 789.63,206.20 789.89,206.84 790.15,208.62 790.41,206.79 790.68,211.04 790.94,205.94 791.20,211.12 791.46,208.95 791.73,207.58 791.99,212.41 792.25,211.85 792.51,214.64 792.78,209.57 793.04,210.15 793.30,210.86 793.56,208.68 793.83,215.59 794.09,210.06 794.35,209.77 794.61,210.70 794.87,207.90 795.14,205.37 795.40,211.18 795.66,212.48 795.92,211.60 796.19,209.76 796.45,208.45 796.71,212.27 796.97,207.36 797.24,212.70 797.50,207.82 797.76,208.87 798.02,208.78 798.29,204.30 798.55,210.70 798.81,210.44 799.07,208.74 799.33,207.72 799.60,213.53 799.86,209.27 800.12,211.96 800.38,208.34 800.65,206.38 800.91,209.86 801.17,210.28 801.43,209.52 801.70,217.80 801.96,207.97 802.22,208.52 802.48,209.57 802.75,211.05 803.01,211.93 803.27,210.47 803.53,206.80 803.79,210.27 804.06,206.44 804.32,216.79 804.58,211.21 804.84,209.28 805.11,210.04 805.37,214.38 805.63,211.76 805.89,206.70 806.16,213.41 806.42,212.62 806.68,212.90 806.94,211.46 807.21,208.30 807.47,208.43 807.73,215.36 807.99,206.15 808.25,211.56 808.52,211.55 808.78,205.60 809.04,210.22 809.30,213.27 809.57,211.69 809.83,211.92 810.09,212.67 810.35,210.88 810.62,207.68 810.88,209.08 811.14,213.65 811.40,202.64 811.67,212.61 811.93,209.69 812.19,209.92 812.45,207.99 812.71,210.87 812.98,208.79 813.24,204.44 813.50,209.75 813.76,212.86 814.03,209.13 814.29,212.12 814.55,210.98 814.81,209.50 815.08,209.11 815.34,210.75 815.60,207.76 815.86,210.51 816.13,213.44 816.39,207.68 816.65,210.96 816.91,206.80 817.17,211.73 817.44,208.49 817.70,209.17 817.96,217.12 818.22,220.95 818.49,218.21 818.75,199.68 819.01,223.85 819.27,203.30 819.54,201.99 819.80,206.37 820.06,201.34 820.32,216.36 820.59,210.14 820.85,207.11 821.11,204.60 821.37,200.92 821.63,212.65 821.90,219.00 822.16,220.31 822.42,202.47 822.68,246.29 822.95,174.47 823.21,217.55 823.47,255.84 823.73,174.09 824.00,255.84 824.26,216.25 824.52,187.08 824.78,195.77 825.05,246.30 825.31,215.61 825.57,201.30 825.83,201.02 826.09,196.84 826.36,198.39 826.62,221.55 826.88,203.00 827.14,213.69 827.41,218.84 827.67,193.11 827.93,216.93 828.19,219.41 828.46,214.49 828.72,219.39 828.98,198.91 829.24,205.81 829.51,199.20 829.77,206.83 830.03,214.74 830.29,201.92 830.55,215.05 830.82,213.57 831.08,211.29 831.34,209.70 831.60,200.78 831.87,214.68 832.13,207.28 832.39,210.21 832.65,219.71 832.92,218.45 833.18,211.70 833.44,206.88 833.70,207.53 833.97,206.30 834.23,209.62 834.49,213.46 834.75,206.71 835.01,217.74 835.28,220.38 835.54,212.57 835.80,221.05 836.06,213.98 836.33,215.78 836.59,214.28 836.85,210.35 837.11,216.19 837.38,213.27 837.64,223.22 837.90,208.88 838.16,216.81 838.43,206.87 838.69,231.86 838.95,216.20 839.21,208.93 839.47,220.79 839.74,211.59 840.00,209.58 840.26,209.54 840.52,216.61 840.79,208.99 841.05,209.34 841.31,214.30 841.57,206.71 841.84,210.22 842.10,209.92 842.36,211.99 842.62,207.58 842.89,209.57 843.15,204.97 843.41,208.00 843.67,212.73 843.93,210.99 844.20,205.94 844.46,211.62 844.72,208.31 844.98,207.69 845.25,210.80 845.51,220.31 845.77,209.42 846.03,209.05 846.30,209.40 846.56,213.36 846.82,204.64 847.08,210.60 847.35,212.76 847.61,213.18 847.87,208.41 848.13,214.84 848.39,214.44 848.66,201.13 848.92,204.19 849.18,205.33 849.44,203.95 849.71,207.36 849.97,217.47 850.23,204.70 850.49,206.70 850.76,208.70 851.02,215.21 851.28,206.69 851.54,206.37 851.81,211.31 852.07,209.66 852.33,207.93 852.59,210.23 852.85,207.08 853.12,209.58 853.38,206.42 853.64,209.56 853.90,217.66 854.17,215.16 854.43,193.60 854.69,208.55 854.95,203.21 855.22,204.10 855.48,201.12 855.74,207.13 856.00,213.09 856.27,209.90 856.53,219.95 856.79,210.98 857.05,205.30 857.31,221.21 857.58,208.98 857.84,205.73 858.10,203.11 858.36,214.80 858.63,213.38 858.89,219.73 859.15,215.29 859.41,207.23 859.68,199.26 859.94,215.95 860.20,202.84 860.46,207.78 860.72,212.57 860.99,198.61 861.25,223.09 861.51,210.35 861.77,208.86 862.04,198.94 862.30,200.66 862.56,198.24 862.82,209.30 863.09,204.91 863.35,202.91 863.61,207.34 863.87,208.13 864.14,210.95 864.40,212.12 864.66,216.39 864.92,199.87 865.18,212.32 865.45,220.81 865.71,209.29 865.97,210.09 866.23,209.53 866.50,205.15 866.76,210.28 867.02,210.71 867.28,212.00 867.55,210.06 867.81,211.17 868.07,209.45 868.33,201.65 868.60,208.95 868.86,212.29 869.12,204.84 869.38,207.69 869.64,207.82 869.91,208.09 870.17,207.81 870.43,208.19 870.69,206.23 870.96,207.31 871.22,206.39 871.48,211.34 871.74,210.01 872.01,211.95 872.27,207.44 872.53,207.78 872.79,211.25 873.06,208.44 873.32,202.97 873.58,206.69 873.84,212.99 874.10,210.25 874.37,208.30 874.63,210.10 874.89,208.96 875.15,206.84 875.42,208.90 875.68,213.67 875.94,207.61 876.20,210.33 876.47,209.62 876.73,211.90 876.99,214.63 877.25,214.17 877.52,211.18 877.78,213.58 878.04,219.09 878.30,206.16 878.56,213.89 878.83,212.43 879.09,208.22 879.35,218.07 879.61,205.51 879.88,212.57 880.14,207.79 880.40,211.61 880.66,208.98 880.93,209.65 881.19,210.00 881.45,216.12 881.71,214.92 881.98,210.14 882.24,205.28 882.50,211.83 882.76,208.22 883.02,209.46 883.29,208.38 883.55,206.68 883.81,215.02 884.07,209.08 884.34,210.60 884.60,211.05 884.86,212.86 885.12,212.63 885.39,213.45 885.65,213.68 885.91,201.59 886.17,204.31 886.44,209.97 886.70,207.51 886.96,213.27 887.22,219.32 887.48,216.10 887.75,209.53 888.01,205.18 888.27,210.14 888.53,212.68 888.80,210.65 889.06,212.67 889.32,213.74 889.58,210.62 889.85,211.07 890.11,212.18 890.37,212.37 890.63,212.49 890.90,209.37 891.16,206.27 891.42,210.56 891.68,204.01 891.94,214.34 892.21,209.26 892.47,213.10 892.73,210.43 892.99,209.73 893.26,208.50 893.52,206.97 893.78,211.49 894.04,213.33 894.31,210.50 894.57,209.21 894.83,211.87 895.09,207.61 895.36,205.49 895.62,213.81 895.88,209.03 896.14,207.28 896.40,215.15 896.67,209.45 896.93,210.60 897.19,213.82 897.45,206.47 897.72,209.42 897.98,211.28 898.24,208.81 898.50,208.28 898.77,207.94 899.03,208.45 899.29,208.90 899.55,213.15 899.82,211.13 900.08,209.66 900.34,217.42 900.60,204.29 900.86,211.02 901.13,212.83 901.39,214.88 901.65,209.33 901.91,209.91 902.18,211.56 902.44,211.12 902.70,212.38 902.96,212.01 903.23,210.26 903.49,211.73 903.75,208.18 904.01,210.38 904.28,209.65 904.54,208.91 904.80,206.59 905.06,208.39 905.32,209.39 905.59,210.44 905.85,212.16 906.11,210.92 906.37,208.17 906.64,209.39 906.90,211.04 907.16,213.57 907.42,214.11 907.69,209.14 907.95,207.25 908.21,209.00 908.47,213.68 908.74,210.57 909.00,209.40 909.26,212.46 909.52,209.07 909.78,210.54 910.05,212.24 910.31,213.33 910.57,207.83 910.83,209.04 911.10,212.38 911.36,212.72 911.62,207.61 911.88,208.40 912.15,210.82 912.41,205.73 912.67,210.78 912.93,212.83 913.20,207.07 913.46,210.50 913.72,209.07 913.98,209.90 914.24,212.68 914.51,213.18 914.77,210.52 915.03,206.23 915.29,212.69 915.56,206.36 915.82,209.41 916.08,212.98 916.34,209.29 916.61,208.48 916.87,212.41 917.13,215.70 917.39,209.05 917.66,212.97 917.92,208.82 918.18,215.12 918.44,210.38 918.70,212.17 918.97,213.96 919.23,210.65 919.49,209.54 919.75,211.49 920.02,213.16 920.28,209.43 920.54,214.68 920.80,208.57 921.07,208.69 921.33,205.51 921.59,207.05 921.85,208.81 922.12,209.12 922.38,209.91 922.64,214.43 922.90,205.11 923.16,208.24 923.43,210.96 923.69,213.83 923.95,205.04 924.21,208.22 924.48,213.96 924.74,207.75 925.00,203.67 925.26,210.08 925.53,208.66 925.79,211.39 926.05,212.10 926.31,206.41 926.58,199.71 926.84,209.61 927.10,210.41 927.36,207.35 927.62,211.02 927.89,207.57 928.15,207.23 928.41,213.39 928.67,213.58 928.94,210.25 929.20,207.22 929.46,209.07 929.72,205.86 929.99,214.60 930.25,208.35 930.51,212.08 930.77,209.67 931.04,208.93 931.30,213.24 931.56,210.76 931.82,213.88 932.08,209.11 932.35,212.84 932.61,211.65 932.87,209.27 933.13,212.18 933.40,206.17 933.66,212.13 933.92,207.17 934.18,209.06 934.45,213.45 934.71,210.73 934.97,212.79 935.23,211.21 935.50,210.90 935.76,203.94 936.02,211.40 936.28,204.77 936.54,208.51 936.81,214.36 937.07,217.71 937.33,207.74 937.59,216.63 937.86,207.61 938.12,207.26 938.38,208.96 938.64,210.56 938.91,210.67 939.17,209.31 939.43,210.81 939.69,211.43 939.96,210.99 940.22,206.88 940.48,211.65 940.74,208.99 941.00,213.07 941.27,213.56 941.53,216.86 941.79,210.99 942.05,206.59 942.32,208.47 942.58,212.46 942.84,206.95 943.10,211.73 943.37,208.14 943.63,208.63 943.89,207.30 944.15,222.37 944.42,216.50 944.68,206.14 944.94,210.53 945.20,198.80 945.46,211.17 945.73,212.75 945.99,202.54 946.25,207.23 946.51,200.53 946.78,207.46 947.04,211.02 947.30,206.39 947.56,213.93 947.83,212.23 948.09,212.77 948.35,211.11 948.61,206.11 948.88,212.40 949.14,208.39 949.40,212.49 949.66,205.59 949.92,223.74 950.19,211.04 950.45,209.16 950.71,215.38 950.97,204.95 951.24,208.92 951.50,203.61 951.76,205.20 952.02,206.80 952.29,210.75 952.55,215.42 952.81,211.10 953.07,212.29 953.34,208.75 953.60,212.32 953.86,194.77 954.12,217.96 954.38,204.15 954.65,212.34 954.91,211.21 955.17,205.39 955.43,209.99 955.70,216.04 955.96,207.94 956.22,210.97 956.48,220.25 956.75,209.01 957.01,215.26 957.27,213.71 957.53,207.60 957.80,208.51 958.06,211.45 958.32,199.19 958.58,207.91 958.84,213.06 959.11,208.82 959.37,210.60 959.63,220.97 959.89,217.85 960.16,216.92 960.42,199.72 960.68,210.92 960.94,211.38 961.21,212.81 961.47,205.12 961.73,209.86 961.99,201.51 962.26,206.08 962.52,201.81 962.78,210.58 963.04,208.13 963.30,212.15 963.57,210.84 963.83,218.61 964.09,212.89 964.35,214.73 964.62,213.24 964.88,203.95 965.14,208.70 965.40,203.91 965.67,205.73 965.93,205.42 966.19,205.00 966.45,213.01 966.72,206.01 966.98,211.60 967.24,212.64 967.50,204.06 967.76,199.24 968.03,214.86 968.29,201.36 968.55,205.87 968.81,214.21 969.08,208.64 969.34,208.15 969.60,208.13 969.86,211.77 970.13,216.39 970.39,209.84 970.65,205.72 970.91,206.10 971.18,206.72 971.44,204.52 971.70,214.93 971.96,210.21 972.22,208.31 972.49,205.04 972.75,209.22 973.01,207.43 973.27,209.34 973.54,199.57 973.80,220.85 974.06,210.12 974.32,197.70 974.59,208.83 974.85,219.10 975.11,209.34 975.37,217.12 975.63,213.37 975.90,208.88 976.16,201.49 976.42,207.70 976.68,206.68 976.95,204.94 977.21,209.00 977.47,214.26 977.73,210.49 978.00,208.33 978.26,211.37 978.52,213.32 978.78,211.78 979.05,217.46 979.31,215.09 979.57,210.45 979.83,211.79 980.09,209.81 980.36,203.03 980.62,208.51 980.88,210.16 981.14,215.83 981.41,215.35 981.67,208.14 981.93,214.33 982.19,207.87 982.46,215.33 982.72,209.33 982.98,210.36 983.24,205.06 983.51,211.95 983.77,211.85 984.03,208.78 984.29,209.73 984.55,201.61 984.82,211.28 985.08,212.66 985.34,211.58 985.60,207.65 985.87,208.84 986.13,206.56 986.39,216.87 986.65,197.70 986.92,200.87 987.18,210.16 987.44,216.00 987.70,209.23 987.97,207.94 988.23,221.08 988.49,209.93 988.75,217.34 989.01,207.73 989.28,203.14 989.54,204.87 989.80,217.47 990.06,203.14 990.33,205.50 990.59,211.79 990.85,207.51 991.11,202.47 991.38,211.65 991.64,210.08 991.90,212.78 992.16,204.26 992.43,220.69 992.69,202.96 992.95,214.80 993.21,205.40 993.47,218.07 993.74,214.65 994.00,212.97 994.26,205.89 994.52,218.05 994.79,207.01 995.05,213.15 995.31,203.84 995.57,211.54 995.84,207.59 996.10,210.85 996.36,201.10 996.62,211.79 996.89,210.12 997.15,200.16 997.41,209.62 997.67,206.60 997.93,213.66 998.20,209.01 998.46,221.26 998.72,209.48 998.98,213.21 999.25,217.46 999.51,217.03 999.77,204.33 1000.03,207.88 1000.30,217.52 1000.56,201.00 1000.82,213.45 1001.08,211.83 1001.35,208.78 1001.61,215.64 1001.87,218.03 1002.13,213.70 1002.39,204.14 1002.66,205.28 1002.92,217.84 1003.18,204.03 1003.44,209.83 1003.71,207.52 1003.97,209.86 1004.23,208.91 1004.49,212.65 1004.76,212.41 1005.02,211.86 1005.28,210.98 1005.54,208.36 1005.81,213.22 1006.07,205.78 1006.33,211.67 1006.59,211.56 1006.85,208.14 1007.12,208.49 1007.38,211.18 1007.64,213.74 1007.90,213.49 1008.17,215.58 1008.43,206.01 1008.69,206.22 1008.95,203.48 1009.22,208.26 1009.48,208.84 1009.74,207.36 1010.00,206.68 1010.27,210.90 1010.53,208.77 1010.79,202.48 1011.05,215.92 1011.31,214.91 1011.58,213.36 1011.84,207.37 1012.10,205.85 1012.36,211.18 1012.63,207.65 1012.89,210.17 1013.15,208.95 1013.41,211.89 1013.68,210.09 1013.94,210.02 1014.20,206.05 1014.46,202.20 1014.73,216.34 1014.99,208.14 1015.25,210.02 1015.51,206.62 1015.77,206.29 1016.04,207.27 1016.30,207.17 1016.56,213.32 1016.82,215.96 1017.09,204.17 1017.35,205.78 1017.61,213.33 1017.87,205.49 1018.14,207.67 1018.40,218.57 1018.66,206.86 1018.92,213.45 1019.19,205.93 1019.45,212.38 1019.71,212.60 1019.97,215.40 1020.23,210.76 1020.50,206.44 1020.76,212.35 1021.02,216.50 1021.28,202.50 1021.55,203.55 1021.81,207.59 1022.07,211.88 1022.33,214.24 1022.60,215.73 1022.86,208.05 1023.12,205.46 1023.38,213.71 1023.65,210.00 1023.91,210.74 1024.17,210.68 1024.43,208.67 1024.69,204.46 1024.96,211.69 1025.22,207.75 1025.48,207.11 1025.74,210.75 1026.01,210.39 1026.27,213.56 1026.53,207.14 1026.79,211.41 1027.06,211.73 1027.32,209.82 1027.58,212.27 1027.84,212.76 1028.11,210.79 1028.37,206.06 1028.63,210.54 1028.89,208.60 1029.15,213.89 1029.42,215.16 1029.68,205.18 1029.94,211.06 1030.20,214.08 1030.47,210.28 1030.73,208.39 1030.99,214.58 1031.25,212.34 1031.52,209.31 1031.78,212.45 1032.04,207.89 1032.30,207.45 1032.57,208.83 1032.83,211.14 1033.09,210.12 1033.35,211.68 1033.61,210.35 1033.88,209.16 1034.14,210.80 1034.40,207.42 1034.66,203.11 1034.93,211.45 1035.19,209.09 1035.45,207.82 1035.71,208.29 1035.98,210.63 1036.24,211.27 1036.50,207.33 1036.76,208.34 1037.03,208.66 1037.29,212.13 1037.55,208.32 1037.81,207.89 1038.07,210.49 1038.34,208.28 1038.60,204.23 1038.86,214.99 1039.12,208.39 1039.39,213.11 1039.65,213.62 1039.91,210.63 1040.17,208.55 1040.44,209.86 1040.70,213.10 1040.96,213.82 1041.22,211.48 1041.49,209.96 1041.75,212.21 1042.01,214.00 1042.27,205.33 1042.53,212.23 1042.80,210.42 1043.06,211.46 1043.32,211.56 1043.58,209.89 1043.85,210.79 1044.11,208.35 1044.37,213.15 1044.63,213.95 1044.90,204.81 1045.16,210.20 1045.42,207.96 1045.68,206.86 1045.95,208.53 1046.21,209.90 1046.47,214.14 1046.73,214.74 1046.99,207.11 1047.26,208.00 1047.52,208.32 1047.78,214.91 1048.04,216.31 1048.31,213.13 1048.57,213.50 1048.83,209.53 1049.09,213.02 1049.36,205.32 1049.62,211.84 1049.88,211.66 1050.14,207.44 1050.41,209.03 1050.67,212.66 1050.93,207.57 1051.19,204.31 1051.45,213.64 1051.72,210.74 1051.98,213.19 1052.24,215.75 1052.50,208.14 1052.77,207.93 1053.03,207.11 1053.29,208.73 1053.55,215.97 1053.82,210.08 1054.08,211.98 1054.34,213.49 1054.60,213.28 1054.87,207.73 1055.13,210.88 1055.39,204.17 1055.65,208.60 1055.91,215.67 1056.18,207.35 1056.44,206.29 1056.70,209.91 1056.96,213.60 1057.23,204.75 1057.49,213.90 1057.75,210.25 1058.01,215.66 1058.28,213.73 1058.54,215.05 1058.80,206.76 1059.06,206.50 1059.33,211.20 1059.59,214.03 1059.85,210.18 1060.11,208.87 1060.37,214.54 1060.64,213.45 1060.90,210.31 1061.16,207.91 1061.42,209.78 1061.69,208.66 1061.95,213.72 1062.21,217.41 1062.47,209.07 1062.74,212.73 1063.00,210.37 1063.26,211.01 1063.52,208.71 1063.79,212.07 1064.05,206.13 1064.31,209.92 1064.57,208.58 1064.83,208.31 1065.10,207.22 1065.36,208.92 1065.62,214.70 1065.88,211.69 1066.15,205.00 1066.41,208.73 1066.67,208.49 1066.93,208.74 1067.20,211.72 1067.46,211.82 1067.72,211.74 1067.98,206.89 1068.25,209.02 1068.51,205.21 1068.77,208.66 1069.03,204.91 1069.29,208.77 1069.56,213.18 1069.82,205.31 1070.08,209.09 1070.34,206.79 1070.61,209.42 1070.87,210.88 1071.13,209.54 1071.39,213.02 1071.66,213.22 1071.92,212.39 1072.18,211.41 1072.44,213.66 1072.71,210.28 1072.97,209.18 1073.23,204.53 1073.49,205.04 1073.75,210.13 1074.02,207.61 1074.28,210.59 1074.54,208.95 1074.80,210.09 1075.07,211.46 1075.33,209.80 1075.59,213.99 1075.85,208.81 1076.12,210.78 1076.38,212.93 1076.64,210.97 1076.90,208.50 1077.17,211.84 1077.43,208.72 1077.69,208.46 1077.95,205.78 1078.21,212.94 1078.48,210.30 1078.74,208.62 1079.00,205.94 1079.26,209.29 1079.53,207.96 1079.79,213.97 1080.05,211.58 1080.31,205.50 1080.58,210.77 1080.84,204.14 1081.10,211.97 1081.36,210.75 1081.63,214.32 1081.89,208.28 1082.15,209.28 1082.41,204.53 1082.67,209.55 1082.94,210.68 1083.20,213.82 1083.46,210.22 1083.72,207.43 1083.99,207.99 1084.25,206.67 1084.51,207.65 1084.77,210.13 1085.04,208.36 1085.30,209.53 1085.56,213.62 1085.82,205.35 1086.09,208.98 1086.35,212.85 1086.61,208.95 1086.87,209.22 1087.13,207.29 1087.40,206.08 1087.66,218.26 1087.92,208.49 1088.18,205.84 1088.45,212.58 1088.71,215.05 1088.97,209.24 1089.23,209.09 1089.50,208.81 1089.76,213.77 1090.02,211.59 1090.28,209.34 1090.54,207.47 1090.81,202.54 1091.07,209.00 1091.33,212.05 1091.59,218.03 1091.86,206.34 1092.12,210.45 1092.38,210.37 1092.64,213.36 1092.91,207.50 1093.17,216.11 1093.43,209.63 1093.69,209.59 1093.96,208.98 1094.22,205.55 1094.48,210.34 1094.74,209.74 1095.00,207.66 1095.27,214.23 1095.53,210.80 1095.79,209.82 1096.05,207.39 1096.32,212.18 1096.58,207.81 1096.84,208.95 1097.10,214.06 1097.37,214.04 1097.63,213.91 1097.89,209.62 1098.15,209.44 1098.42,208.02 1098.68,207.76 1098.94,211.51 1099.20,207.08 1099.46,207.76 1099.73,208.71 1099.99,208.69 1100.25,213.51 1100.51,209.01 1100.78,212.82 1101.04,213.26 1101.30,210.96 1101.56,209.62 1101.83,210.15 1102.09,210.90 1102.35,212.73 1102.61,209.49 1102.88,212.03 1103.14,213.85 1103.40,209.74 1103.66,206.03 1103.92,211.11 1104.19,212.90 1104.45,206.21 1104.71,205.32 1104.97,210.80 1105.24,210.58 1105.50,209.42 1105.76,201.93 1106.02,209.63 1106.29,207.28 1106.55,208.79 1106.81,214.98 1107.07,213.02 1107.34,213.37 1107.60,208.81 1107.86,209.71 1108.12,205.10 1108.38,210.74 1108.65,209.16 1108.91,209.79 1109.17,209.31 1109.43,198.55 1109.70,208.59 1109.96,202.72 1110.22,203.58 1110.48,213.00 1110.75,206.61 1111.01,211.88 1111.27,209.46 1111.53,209.22 1111.80,209.90 1112.06,212.32 1112.32,202.30 1112.58,211.31 1112.84,206.52 1113.11,201.69 1113.37,206.90 1113.63,204.92 1113.89,203.13 1114.16,204.61 1114.42,201.49 1114.68,217.07 1114.94,200.30 1115.21,209.86 1115.47,218.65 1115.73,211.76 1115.99,213.82 1116.26,210.06 1116.52,214.09 1116.78,212.76 1117.04,209.19 1117.30,209.57 1117.57,212.19 1117.83,210.64 1118.09,210.27 1118.35,209.79 1118.62,210.02 1118.88,210.61 1119.14,207.59 1119.40,214.41 1119.67,211.36 1119.93,209.63 1120.19,211.10 1120.45,211.52 1120.72,211.20 1120.98,209.43 1121.24,206.58 1121.50,210.51 1121.76,210.73 1122.03,209.02 1122.29,210.67 1122.55,215.31 1122.81,209.26 1123.08,211.04 1123.34,211.57 1123.60,208.27 1123.86,209.88 1124.13,211.55 1124.39,215.98 1124.65,214.73 1124.91,209.96 1125.18,210.32 1125.44,208.80 1125.70,209.39 1125.96,211.31 1126.22,213.48 1126.49,213.01 1126.75,210.38 1127.01,213.16 1127.27,207.92 1127.54,213.65 1127.80,214.92 1128.06,210.53 1128.32,214.88 1128.59,205.53 1128.85,212.73 1129.11,210.14 1129.37,210.67 1129.64,212.25 1129.90,214.86 1130.16,215.12 1130.42,207.62 1130.68,207.19 1130.95,204.05 1131.21,214.02 1131.47,208.46 1131.73,210.04 1132.00,207.67 1132.26,211.41 1132.52,208.02 1132.78,207.54 1133.05,208.33 1133.31,206.02 1133.57,210.48 1133.83,205.75 1134.10,211.93 1134.36,205.41 1134.62,217.55 1134.88,209.96 1135.14,212.20 1135.41,210.00 1135.67,205.67 1135.93,206.98 1136.19,209.60 1136.46,202.85 1136.72,216.20 1136.98,213.42 1137.24,203.66 1137.51,208.62 1137.77,218.72 1138.03,208.57 1138.29,214.98 1138.56,203.79 1138.82,206.85 1139.08,211.50 1139.34,206.44 1139.60,212.29 1139.87,207.47 1140.13,208.41 1140.39,210.35 1140.65,213.91 1140.92,210.77 1141.18,216.30 1141.44,211.55 1141.70,215.09 1141.97,206.66 1142.23,212.66 1142.49,216.69 1142.75,208.39 1143.02,208.99 1143.28,211.39 1143.54,204.18 1143.80,207.87 1144.06,209.82 1144.33,211.77 1144.59,218.13 1144.85,208.68 1145.11,207.36 1145.38,211.63 1145.64,213.89 1145.90,210.11 1146.16,214.60 1146.43,209.98 1146.69,207.88 1146.95,205.85 1147.21,209.27 1147.48,209.46 1147.74,207.94 1148.00,206.15" fill="none" stroke="#FFFF00" stroke-width="1" stroke-linejoin="round" shape-rendering="crispEdges" clip-path="url(#c1)"/>
<rect x="665.3" y="65.3" width="501.2" height="253.4" fill="none" stroke="#000" stroke-width="1" shape-rendering="crispEdges"/>
<line x1="677.50" y1="318.70" x2="1073.20" y2="318.70" stroke="#000" stroke-width="1" shape-rendering="crispEdges"/>
<line x1="677.50" y1="318.70" x2="677.50" y2="326.70" stroke="#000" stroke-width="1" shape-rendering="crispEdges"/>
<text transform="translate(677.50 347.80) scale(0.9420 1)" font-size="13.8" text-anchor="middle">2018</text>
<line x1="809.40" y1="318.70" x2="809.40" y2="326.70" stroke="#000" stroke-width="1" shape-rendering="crispEdges"/>
<text transform="translate(809.40 347.80) scale(0.9420 1)" font-size="13.8" text-anchor="middle">2020</text>
<line x1="941.30" y1="318.70" x2="941.30" y2="326.70" stroke="#000" stroke-width="1" shape-rendering="crispEdges"/>
<text transform="translate(941.30 347.80) scale(0.9420 1)" font-size="13.8" text-anchor="middle">2022</text>
<line x1="1073.20" y1="318.70" x2="1073.20" y2="326.70" stroke="#000" stroke-width="1" shape-rendering="crispEdges"/>
<text transform="translate(1073.20 347.80) scale(0.9420 1)" font-size="13.8" text-anchor="middle">2024</text>
<line x1="665.30" y1="286.40" x2="665.30" y2="95.40" stroke="#000" stroke-width="1" shape-rendering="crispEdges"/>
<line x1="657.30" y1="286.40" x2="665.30" y2="286.40" stroke="#000" stroke-width="1" shape-rendering="crispEdges"/>
<text transform="translate(647.00 286.40) rotate(-90) scale(0.9420 1)" font-size="13.8" text-anchor="middle">-0.2</text>
<line x1="657.30" y1="248.20" x2="665.30" y2="248.20" stroke="#000" stroke-width="1" shape-rendering="crispEdges"/>
<text transform="translate(647.00 248.20) rotate(-90) scale(0.9420 1)" font-size="13.8" text-anchor="middle">-0.1</text>
<line x1="657.30" y1="210.00" x2="665.30" y2="210.00" stroke="#000" stroke-width="1" shape-rendering="crispEdges"/>
<text transform="translate(647.00 210.00) rotate(-90) scale(0.9420 1)" font-size="13.8" text-anchor="middle">0.0</text>
<line x1="657.30" y1="171.80" x2="665.30" y2="171.80" stroke="#000" stroke-width="1" shape-rendering="crispEdges"/>
<text transform="translate(647.00 171.80) rotate(-90) scale(0.9420 1)" font-size="13.8" text-anchor="middle">0.1</text>
<line x1="657.30" y1="133.60" x2="665.30" y2="133.60" stroke="#000" stroke-width="1" shape-rendering="crispEdges"/>
<text transform="translate(647.00 133.60) rotate(-90) scale(0.9420 1)" font-size="13.8" text-anchor="middle">0.2</text>
<line x1="657.30" y1="95.40" x2="665.30" y2="95.40" stroke="#000" stroke-width="1" shape-rendering="crispEdges"/>
<text transform="translate(647.00 95.40) rotate(-90) scale(0.9420 1)" font-size="13.8" text-anchor="middle">0.3</text>
<text x="914.20" y="40.00" font-size="16" text-anchor="middle" font-weight="bold" textLength="354.6" lengthAdjust="spacingAndGlyphs">GRWG versus S&amp;P500 stock return time-series</text>
<rect x="997.7" y="65.3" width="168.8" height="47.8" fill="#fff" stroke="#000" stroke-width="1" shape-rendering="crispEdges"/>
<line x1="1009.10" y1="81.00" x2="1033.80" y2="81.00" stroke="#0000FF" stroke-width="2" shape-rendering="crispEdges"/>
<line x1="1009.10" y1="97.50" x2="1033.80" y2="97.50" stroke="#FFFF00" stroke-width="1" shape-rendering="crispEdges"/>
<text transform="translate(1045.20 86.80) scale(0.9420 1)" font-size="13.8" text-anchor="start" textLength="121.0" lengthAdjust="spacingAndGlyphs">GRWG stock return</text>
<text transform="translate(1045.20 102.80) scale(0.9420 1)" font-size="13.8" text-anchor="start" textLength="115.9" lengthAdjust="spacingAndGlyphs">GSPC stock return</text>
<polyline points="60.00,709.00 129.40,709.00 129.50,708.00 149.70,708.00 149.80,709.00 167.20,709.00 167.30,708.00 181.25,707.60 200.00,706.90 205.00,705.25 212.50,702.90 220.00,700.00 227.50,696.90 235.00,692.50 242.50,687.50 250.00,681.90 257.50,675.60 262.50,671.90 266.25,669.10 270.00,667.25 274.40,666.25 278.75,666.90 282.50,668.75 287.50,673.90 292.50,679.20 297.50,682.75 302.50,684.75 307.50,685.60 312.50,686.90 316.25,688.75 321.25,693.10 326.25,696.90 331.25,699.40 336.25,701.25 342.50,702.75 350.00,704.40 357.50,705.00 365.00,705.25 372.50,706.25 381.25,707.60 381.70,708.00 430.80,708.00 430.90,709.00 570.00,709.00" fill="none" stroke="#228B22" stroke-width="2.3" stroke-linejoin="round" shape-rendering="crispEdges" clip-path="url(#c2)"/>
<line x1="65.30" y1="709.50" x2="566.50" y2="709.50" stroke="#BEBEBE" stroke-width="1" shape-rendering="crispEdges"/>
<polyline points="237.70,708.50 244.20,708.50 250.00,707.25 256.25,700.60 260.00,700.00 262.50,696.90 264.40,690.00 266.25,680.00 268.10,670.00 270.00,658.75 271.90,645.00 272.50,640.00 274.00,595.00 275.20,578.50 276.40,553.00 277.30,520.00 278.50,493.00 280.00,481.00 280.75,481.00 281.50,503.50 283.00,529.00 284.20,553.00 285.40,569.50 286.60,583.00 287.20,595.00 289.40,640.00 290.60,646.25 291.25,652.50 292.25,667.50 293.10,681.25 294.00,688.75 295.60,694.75 298.75,698.10 300.60,704.40 303.75,706.25 306.90,708.50 326.90,708.50" fill="none" stroke="#FFA500" stroke-width="1" stroke-linejoin="round" shape-rendering="crispEdges" clip-path="url(#c2)"/>
<line x1="181.90" y1="708.50" x2="185.00" y2="708.50" stroke="#FFA500" stroke-width="1" shape-rendering="crispEdges"/>
<line x1="203.00" y1="708.50" x2="205.60" y2="708.50" stroke="#FFA500" stroke-width="1" shape-rendering="crispEdges"/>
<line x1="218.20" y1="708.50" x2="221.40" y2="708.50" stroke="#FFA500" stroke-width="1" shape-rendering="crispEdges"/>
<line x1="232.30" y1="708.50" x2="235.50" y2="708.50" stroke="#FFA500" stroke-width="1" shape-rendering="crispEdges"/>
<line x1="329.40" y1="708.50" x2="332.50" y2="708.50" stroke="#FFA500" stroke-width="1" shape-rendering="crispEdges"/>
<line x1="345.00" y1="708.50" x2="348.75" y2="708.50" stroke="#FFA500" stroke-width="1" shape-rendering="crispEdges"/>
<rect x="65.3" y="465.3" width="501.2" height="253.4" fill="none" stroke="#000" stroke-width="1" shape-rendering="crispEdges"/>
<line x1="128.50" y1="718.70" x2="506.50" y2="718.70" stroke="#000" stroke-width="1" shape-rendering="crispEdges"/>
<line x1="128.50" y1="718.70" x2="128.50" y2="726.70" stroke="#000" stroke-width="1" shape-rendering="crispEdges"/>
<text transform="translate(128.50 747.80) scale(0.9420 1)" font-size="13.8" text-anchor="middle">-0.2</text>
<line x1="204.50" y1="718.70" x2="204.50" y2="726.70" stroke="#000" stroke-width="1" shape-rendering="crispEdges"/>
<text transform="translate(204.50 747.80) scale(0.9420 1)" font-size="13.8" text-anchor="middle">-0.1</text>
<line x1="279.50" y1="718.70" x2="279.50" y2="726.70" stroke="#000" stroke-width="1" shape-rendering="crispEdges"/>
<text transform="translate(279.50 747.80) scale(0.9420 1)" font-size="13.8" text-anchor="middle">0.0</text>
<line x1="355.50" y1="718.70" x2="355.50" y2="726.70" stroke="#000" stroke-width="1" shape-rendering="crispEdges"/>
<text transform="translate(355.50 747.80) scale(0.9420 1)" font-size="13.8" text-anchor="middle">0.1</text>
<line x1="430.50" y1="718.70" x2="430.50" y2="726.70" stroke="#000" stroke-width="1" shape-rendering="crispEdges"/>
<text transform="translate(430.50 747.80) scale(0.9420 1)" font-size="13.8" text-anchor="middle">0.2</text>
<line x1="506.50" y1="718.70" x2="506.50" y2="726.70" stroke="#000" stroke-width="1" shape-rendering="crispEdges"/>
<text transform="translate(506.50 747.80) scale(0.9420 1)" font-size="13.8" text-anchor="middle">0.3</text>
<line x1="65.30" y1="709.10" x2="65.30" y2="488.50" stroke="#000" stroke-width="1" shape-rendering="crispEdges"/>
<line x1="57.30" y1="709.10" x2="65.30" y2="709.10" stroke="#000" stroke-width="1" shape-rendering="crispEdges"/>
<text transform="translate(47.00 709.10) rotate(-90) scale(0.9420 1)" font-size="13.8" text-anchor="middle">0</text>
<line x1="57.30" y1="664.98" x2="65.30" y2="664.98" stroke="#000" stroke-width="1" shape-rendering="crispEdges"/>
<text transform="translate(47.00 664.98) rotate(-90) scale(0.9420 1)" font-size="13.8" text-anchor="middle">10</text>
<line x1="57.30" y1="620.86" x2="65.30" y2="620.86" stroke="#000" stroke-width="1" shape-rendering="crispEdges"/>
<text transform="translate(47.00 620.86) rotate(-90) scale(0.9420 1)" font-size="13.8" text-anchor="middle">20</text>
<line x1="57.30" y1="576.74" x2="65.30" y2="576.74" stroke="#000" stroke-width="1" shape-rendering="crispEdges"/>
<text transform="translate(47.00 576.74) rotate(-90) scale(0.9420 1)" font-size="13.8" text-anchor="middle">30</text>
<line x1="57.30" y1="532.62" x2="65.30" y2="532.62" stroke="#000" stroke-width="1" shape-rendering="crispEdges"/>
<text transform="translate(47.00 532.62) rotate(-90) scale(0.9420 1)" font-size="13.8" text-anchor="middle">40</text>
<line x1="57.30" y1="488.50" x2="65.30" y2="488.50" stroke="#000" stroke-width="1" shape-rendering="crispEdges"/>
<text transform="translate(47.00 488.50) rotate(-90) scale(0.9420 1)" font-size="13.8" text-anchor="middle">50</text>
<text x="314.20" y="440.00" font-size="16" text-anchor="middle" font-weight="bold" textLength="357.8" lengthAdjust="spacingAndGlyphs">GRWG versus S&amp;P500 stock return distribution</text>
<rect x="65.3" y="465.3" width="200.0" height="48.1" fill="#fff" stroke="#000" stroke-width="1" shape-rendering="crispEdges"/>
<line x1="77.10" y1="481.00" x2="101.90" y2="481.00" stroke="#228B22" stroke-width="2" shape-rendering="crispEdges"/>
<line x1="77.10" y1="497.30" x2="101.90" y2="497.30" stroke="#FFA500" stroke-width="1" shape-rendering="crispEdges"/>
<text transform="translate(113.30 486.80) scale(0.9420 1)" font-size="13.8" text-anchor="start" textLength="154.1" lengthAdjust="spacingAndGlyphs">GRWG return distribution</text>
<text transform="translate(113.30 502.80) scale(0.9420 1)" font-size="13.8" text-anchor="start" textLength="148.9" lengthAdjust="spacingAndGlyphs">GSPC return distribution</text>
<g clip-path="url(#c3)" shape-rendering="crispEdges" stroke="#000" stroke-width="1">
<rect x="683.5" y="715.5" width="6" height="1" fill="#0000FF"/>
<line x1="689" y1="716.5" x2="695" y2="716.5"/>
<line x1="699" y1="716.5" x2="705" y2="716.5"/>
<line x1="704" y1="716.5" x2="710" y2="716.5"/>
<rect x="715.5" y="715.5" width="5" height="1" fill="#0000FF"/>
<line x1="720" y1="716.5" x2="726" y2="716.5"/>
<rect x="730.5" y="715.5" width="6" height="1" fill="#0000FF"/>
<line x1="736" y1="716.5" x2="742" y2="716.5"/>
<rect x="746.5" y="715.5" width="5" height="1" fill="#0000FF"/>
<line x1="751" y1="716.5" x2="757" y2="716.5"/>
<rect x="762.5" y="715.5" width="5" height="1" fill="#0000FF"/>
<line x1="767" y1="716.5" x2="773" y2="716.5"/>
<rect x="777.5" y="713.5" width="5" height="3" fill="#0000FF"/>
<line x1="782" y1="716.5" x2="789" y2="716.5"/>
<rect x="793.5" y="711.5" width="5" height="5" fill="#0000FF"/>
<line x1="798" y1="716.5" x2="804" y2="716.5"/>
<rect x="809.5" y="706.5" width="5" height="10" fill="#0000FF"/>
<line x1="814" y1="716.5" x2="820" y2="716.5"/>
<rect x="824.5" y="691.5" width="5" height="25" fill="#0000FF"/>
<line x1="829" y1="716.5" x2="836" y2="716.5"/>
<rect x="840.5" y="674.5" width="5" height="42" fill="#0000FF"/>
<rect x="845.5" y="712.5" width="5" height="4" fill="#FFFF00"/>
<rect x="855.5" y="649.5" width="6" height="67" fill="#0000FF"/>
<rect x="861.5" y="687.5" width="5" height="29" fill="#FFFF00"/>
<rect x="871.5" y="641.5" width="5" height="75" fill="#0000FF"/>
<rect x="876.5" y="465.5" width="6" height="251" fill="#FFFF00"/>
<rect x="887.5" y="662.5" width="5" height="54" fill="#0000FF"/>
<rect x="892.5" y="628.5" width="5" height="88" fill="#FFFF00"/>
<rect x="902.5" y="675.5" width="6" height="41" fill="#0000FF"/>
<rect x="908.5" y="713.5" width="5" height="3" fill="#FFFF00"/>
<rect x="918.5" y="691.5" width="5" height="25" fill="#0000FF"/>
<rect x="923.5" y="714.5" width="5" height="2" fill="#FFFF00"/>
<rect x="934.5" y="703.5" width="5" height="13" fill="#0000FF"/>
<line x1="939" y1="716.5" x2="945" y2="716.5"/>
<rect x="949.5" y="709.5" width="6" height="7" fill="#0000FF"/>
<line x1="955" y1="716.5" x2="961" y2="716.5"/>
<rect x="965.5" y="710.5" width="5" height="6" fill="#0000FF"/>
<line x1="970" y1="716.5" x2="976" y2="716.5"/>
<rect x="981.5" y="714.5" width="5" height="2" fill="#0000FF"/>
<line x1="986" y1="716.5" x2="992" y2="716.5"/>
<rect x="996.5" y="715.5" width="5" height="1" fill="#0000FF"/>
<line x1="1001" y1="716.5" x2="1008" y2="716.5"/>
<rect x="1012.5" y="715.5" width="5" height="1" fill="#0000FF"/>
<line x1="1017" y1="716.5" x2="1023" y2="716.5"/>
<rect x="1028.5" y="715.5" width="5" height="1" fill="#0000FF"/>
<line x1="1033" y1="716.5" x2="1039" y2="716.5"/>
<line x1="1043" y1="716.5" x2="1049" y2="716.5"/>
<line x1="1048" y1="716.5" x2="1055" y2="716.5"/>
<line x1="1059" y1="716.5" x2="1065" y2="716.5"/>
<line x1="1064" y1="716.5" x2="1070" y2="716.5"/>
<line x1="1074" y1="716.5" x2="1081" y2="716.5"/>
<line x1="1080" y1="716.5" x2="1086" y2="716.5"/>
<line x1="1090" y1="716.5" x2="1096" y2="716.5"/>
<line x1="1095" y1="716.5" x2="1102" y2="716.5"/>
<line x1="1106" y1="716.5" x2="1112" y2="716.5"/>
<line x1="1111" y1="716.5" x2="1117" y2="716.5"/>
<line x1="1121" y1="716.5" x2="1128" y2="716.5"/>
<line x1="1127" y1="716.5" x2="1133" y2="716.5"/>
<line x1="1137" y1="716.5" x2="1143" y2="716.5"/>
<line x1="1142" y1="716.5" x2="1148" y2="716.5"/>
</g>
<rect x="665.3" y="465.3" width="501.2" height="253.4" fill="none" stroke="#000" stroke-width="1" shape-rendering="crispEdges"/>
<line x1="665.30" y1="716.50" x2="665.30" y2="503.50" stroke="#000" stroke-width="1" shape-rendering="crispEdges"/>
<line x1="657.30" y1="716.50" x2="665.30" y2="716.50" stroke="#000" stroke-width="1" shape-rendering="crispEdges"/>
<text transform="translate(647.00 716.50) rotate(-90) scale(0.9420 1)" font-size="13.8" text-anchor="middle">0</text>
<line x1="657.30" y1="673.90" x2="665.30" y2="673.90" stroke="#000" stroke-width="1" shape-rendering="crispEdges"/>
<text transform="translate(647.00 673.90) rotate(-90) scale(0.9420 1)" font-size="13.8" text-anchor="middle">200</text>
<line x1="657.30" y1="631.30" x2="665.30" y2="631.30" stroke="#000" stroke-width="1" shape-rendering="crispEdges"/>
<text transform="translate(647.00 631.30) rotate(-90) scale(0.9420 1)" font-size="13.8" text-anchor="middle">400</text>
<line x1="657.30" y1="588.70" x2="665.30" y2="588.70" stroke="#000" stroke-width="1" shape-rendering="crispEdges"/>
<text transform="translate(647.00 588.70) rotate(-90) scale(0.9420 1)" font-size="13.8" text-anchor="middle">600</text>
<line x1="657.30" y1="546.10" x2="665.30" y2="546.10" stroke="#000" stroke-width="1" shape-rendering="crispEdges"/>
<text transform="translate(647.00 546.10) rotate(-90) scale(0.9420 1)" font-size="13.8" text-anchor="middle">800</text>
<line x1="657.30" y1="503.50" x2="665.30" y2="503.50" stroke="#000" stroke-width="1" shape-rendering="crispEdges"/>
<text transform="translate(647.00 503.50) rotate(-90) scale(0.9420 1)" font-size="13.8" text-anchor="middle">1000</text>
<text transform="translate(689.10 748.20) scale(0.9420 1)" font-size="13.8" text-anchor="middle">[-0.26,-0.239)</text>
<text transform="translate(782.94 748.20) scale(0.9420 1)" font-size="13.8" text-anchor="middle">[-0.137,-0.116)</text>
<text transform="translate(892.42 748.20) scale(0.9420 1)" font-size="13.8" text-anchor="middle">[0.00695,0.0275)</text>
<text transform="translate(986.26 748.20) scale(0.9420 1)" font-size="13.8" text-anchor="middle">[0.13,0.15)</text>
<text transform="translate(1080.10 748.20) scale(0.9420 1)" font-size="13.8" text-anchor="middle">[0.253,0.274)</text>
<text transform="translate(914.10 779.50) scale(0.9420 1)" font-size="13.8" text-anchor="middle">return</text>
<text transform="translate(615.30 592.80) rotate(-90) scale(0.9420 1)" font-size="13.8" text-anchor="middle">frequency</text>
<text x="914.70" y="440.00" font-size="16" text-anchor="middle" font-weight="bold" textLength="393.5" lengthAdjust="spacingAndGlyphs">GRWG versus S&amp;P500 return frequency distribution</text>
<rect x="988.5" y="465.3" width="178.0" height="47.9" fill="#fff" stroke="#000" stroke-width="1" shape-rendering="crispEdges"/>
<rect x="1000.5" y="477.5" width="9" height="8" fill="#0000FF" stroke="#000" shape-rendering="crispEdges"/>
<rect x="1000.5" y="493.5" width="9" height="8" fill="#FFFF00" stroke="#000" shape-rendering="crispEdges"/>
<text transform="translate(1021.40 486.80) scale(0.9420 1)" font-size="13.8" text-anchor="start" textLength="146.7" lengthAdjust="spacingAndGlyphs">GRWG return frequency</text>
<text transform="translate(1021.40 502.80) scale(0.9420 1)" font-size="13.8" text-anchor="start" textLength="141.4" lengthAdjust="spacingAndGlyphs">GSPC return frequency</text>
</svg>
</body></html>
